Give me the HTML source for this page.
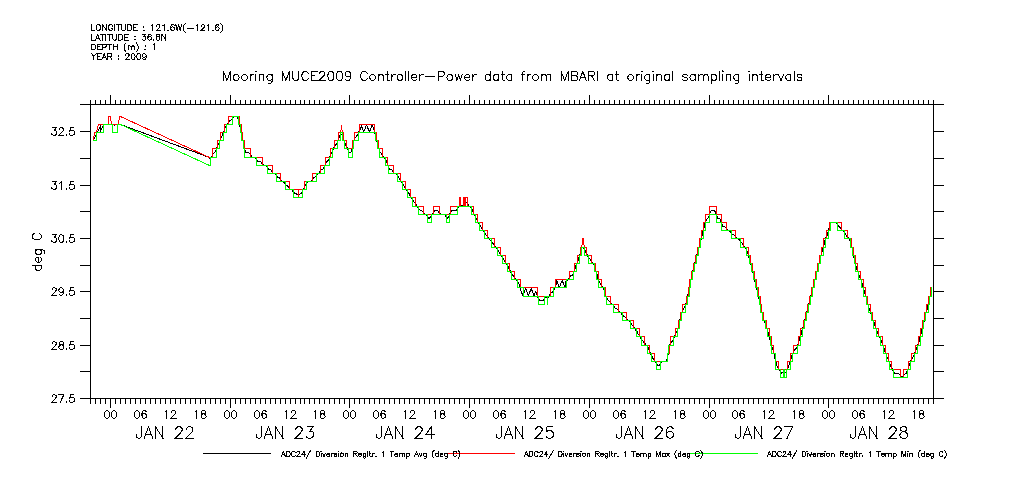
<!DOCTYPE html>
<html><head><meta charset="utf-8"><title>Mooring MUCE2009 Controller-Power</title>
<style>html,body{margin:0;padding:0;background:#fff;font-family:"Liberation Sans",sans-serif}svg{display:block}</style></head>
<body><svg width="1009" height="504" viewBox="0 0 1009 504" shape-rendering="crispEdges">
<rect width="1009" height="504" fill="#fff"/>
<rect x="80" y="104" width="864" height="1" fill="#000"/>
<rect x="80" y="398" width="864" height="1" fill="#000"/>
<rect x="90" y="104" width="1" height="295" fill="#000"/>
<rect x="933" y="104" width="1" height="295" fill="#000"/>
<rect x="80" y="131" width="11" height="1" fill="#000"/>
<rect x="933" y="131" width="11" height="1" fill="#000"/>
<rect x="80" y="158" width="11" height="1" fill="#000"/>
<rect x="933" y="158" width="11" height="1" fill="#000"/>
<rect x="80" y="185" width="11" height="1" fill="#000"/>
<rect x="933" y="185" width="11" height="1" fill="#000"/>
<rect x="80" y="211" width="11" height="1" fill="#000"/>
<rect x="933" y="211" width="11" height="1" fill="#000"/>
<rect x="80" y="238" width="11" height="1" fill="#000"/>
<rect x="933" y="238" width="11" height="1" fill="#000"/>
<rect x="80" y="265" width="11" height="1" fill="#000"/>
<rect x="933" y="265" width="11" height="1" fill="#000"/>
<rect x="80" y="291" width="11" height="1" fill="#000"/>
<rect x="933" y="291" width="11" height="1" fill="#000"/>
<rect x="80" y="318" width="11" height="1" fill="#000"/>
<rect x="933" y="318" width="11" height="1" fill="#000"/>
<rect x="80" y="345" width="11" height="1" fill="#000"/>
<rect x="933" y="345" width="11" height="1" fill="#000"/>
<rect x="80" y="371" width="11" height="1" fill="#000"/>
<rect x="933" y="371" width="11" height="1" fill="#000"/>
<rect x="90" y="100" width="1" height="5" fill="#000"/>
<rect x="90" y="398" width="1" height="6" fill="#000"/>
<rect x="95" y="100" width="1" height="5" fill="#000"/>
<rect x="95" y="398" width="1" height="6" fill="#000"/>
<rect x="100" y="100" width="1" height="5" fill="#000"/>
<rect x="100" y="398" width="1" height="6" fill="#000"/>
<rect x="105" y="100" width="1" height="5" fill="#000"/>
<rect x="105" y="398" width="1" height="6" fill="#000"/>
<rect x="110" y="95" width="1" height="10" fill="#000"/>
<rect x="110" y="398" width="1" height="10" fill="#000"/>
<rect x="115" y="100" width="1" height="5" fill="#000"/>
<rect x="115" y="398" width="1" height="6" fill="#000"/>
<rect x="120" y="100" width="1" height="5" fill="#000"/>
<rect x="120" y="398" width="1" height="6" fill="#000"/>
<rect x="125" y="100" width="1" height="5" fill="#000"/>
<rect x="125" y="398" width="1" height="6" fill="#000"/>
<rect x="130" y="100" width="1" height="5" fill="#000"/>
<rect x="130" y="398" width="1" height="6" fill="#000"/>
<rect x="135" y="100" width="1" height="5" fill="#000"/>
<rect x="135" y="398" width="1" height="6" fill="#000"/>
<rect x="140" y="100" width="1" height="5" fill="#000"/>
<rect x="140" y="398" width="1" height="6" fill="#000"/>
<rect x="145" y="100" width="1" height="5" fill="#000"/>
<rect x="145" y="398" width="1" height="6" fill="#000"/>
<rect x="150" y="100" width="1" height="5" fill="#000"/>
<rect x="150" y="398" width="1" height="6" fill="#000"/>
<rect x="155" y="100" width="1" height="5" fill="#000"/>
<rect x="155" y="398" width="1" height="6" fill="#000"/>
<rect x="160" y="100" width="1" height="5" fill="#000"/>
<rect x="160" y="398" width="1" height="6" fill="#000"/>
<rect x="165" y="100" width="1" height="5" fill="#000"/>
<rect x="165" y="398" width="1" height="6" fill="#000"/>
<rect x="170" y="100" width="1" height="5" fill="#000"/>
<rect x="170" y="398" width="1" height="6" fill="#000"/>
<rect x="175" y="100" width="1" height="5" fill="#000"/>
<rect x="175" y="398" width="1" height="6" fill="#000"/>
<rect x="180" y="100" width="1" height="5" fill="#000"/>
<rect x="180" y="398" width="1" height="6" fill="#000"/>
<rect x="185" y="100" width="1" height="5" fill="#000"/>
<rect x="185" y="398" width="1" height="6" fill="#000"/>
<rect x="190" y="100" width="1" height="5" fill="#000"/>
<rect x="190" y="398" width="1" height="6" fill="#000"/>
<rect x="195" y="100" width="1" height="5" fill="#000"/>
<rect x="195" y="398" width="1" height="6" fill="#000"/>
<rect x="200" y="100" width="1" height="5" fill="#000"/>
<rect x="200" y="398" width="1" height="6" fill="#000"/>
<rect x="205" y="100" width="1" height="5" fill="#000"/>
<rect x="205" y="398" width="1" height="6" fill="#000"/>
<rect x="210" y="100" width="1" height="5" fill="#000"/>
<rect x="210" y="398" width="1" height="6" fill="#000"/>
<rect x="215" y="100" width="1" height="5" fill="#000"/>
<rect x="215" y="398" width="1" height="6" fill="#000"/>
<rect x="220" y="100" width="1" height="5" fill="#000"/>
<rect x="220" y="398" width="1" height="6" fill="#000"/>
<rect x="225" y="100" width="1" height="5" fill="#000"/>
<rect x="225" y="398" width="1" height="6" fill="#000"/>
<rect x="230" y="95" width="1" height="10" fill="#000"/>
<rect x="230" y="398" width="1" height="10" fill="#000"/>
<rect x="235" y="100" width="1" height="5" fill="#000"/>
<rect x="235" y="398" width="1" height="6" fill="#000"/>
<rect x="240" y="100" width="1" height="5" fill="#000"/>
<rect x="240" y="398" width="1" height="6" fill="#000"/>
<rect x="245" y="100" width="1" height="5" fill="#000"/>
<rect x="245" y="398" width="1" height="6" fill="#000"/>
<rect x="250" y="100" width="1" height="5" fill="#000"/>
<rect x="250" y="398" width="1" height="6" fill="#000"/>
<rect x="255" y="100" width="1" height="5" fill="#000"/>
<rect x="255" y="398" width="1" height="6" fill="#000"/>
<rect x="260" y="100" width="1" height="5" fill="#000"/>
<rect x="260" y="398" width="1" height="6" fill="#000"/>
<rect x="265" y="100" width="1" height="5" fill="#000"/>
<rect x="265" y="398" width="1" height="6" fill="#000"/>
<rect x="270" y="100" width="1" height="5" fill="#000"/>
<rect x="270" y="398" width="1" height="6" fill="#000"/>
<rect x="275" y="100" width="1" height="5" fill="#000"/>
<rect x="275" y="398" width="1" height="6" fill="#000"/>
<rect x="280" y="100" width="1" height="5" fill="#000"/>
<rect x="280" y="398" width="1" height="6" fill="#000"/>
<rect x="285" y="100" width="1" height="5" fill="#000"/>
<rect x="285" y="398" width="1" height="6" fill="#000"/>
<rect x="290" y="100" width="1" height="5" fill="#000"/>
<rect x="290" y="398" width="1" height="6" fill="#000"/>
<rect x="295" y="100" width="1" height="5" fill="#000"/>
<rect x="295" y="398" width="1" height="6" fill="#000"/>
<rect x="300" y="100" width="1" height="5" fill="#000"/>
<rect x="300" y="398" width="1" height="6" fill="#000"/>
<rect x="304" y="100" width="1" height="5" fill="#000"/>
<rect x="304" y="398" width="1" height="6" fill="#000"/>
<rect x="309" y="100" width="1" height="5" fill="#000"/>
<rect x="309" y="398" width="1" height="6" fill="#000"/>
<rect x="314" y="100" width="1" height="5" fill="#000"/>
<rect x="314" y="398" width="1" height="6" fill="#000"/>
<rect x="319" y="100" width="1" height="5" fill="#000"/>
<rect x="319" y="398" width="1" height="6" fill="#000"/>
<rect x="324" y="100" width="1" height="5" fill="#000"/>
<rect x="324" y="398" width="1" height="6" fill="#000"/>
<rect x="329" y="100" width="1" height="5" fill="#000"/>
<rect x="329" y="398" width="1" height="6" fill="#000"/>
<rect x="334" y="100" width="1" height="5" fill="#000"/>
<rect x="334" y="398" width="1" height="6" fill="#000"/>
<rect x="339" y="100" width="1" height="5" fill="#000"/>
<rect x="339" y="398" width="1" height="6" fill="#000"/>
<rect x="344" y="100" width="1" height="5" fill="#000"/>
<rect x="344" y="398" width="1" height="6" fill="#000"/>
<rect x="349" y="95" width="1" height="10" fill="#000"/>
<rect x="349" y="398" width="1" height="10" fill="#000"/>
<rect x="354" y="100" width="1" height="5" fill="#000"/>
<rect x="354" y="398" width="1" height="6" fill="#000"/>
<rect x="359" y="100" width="1" height="5" fill="#000"/>
<rect x="359" y="398" width="1" height="6" fill="#000"/>
<rect x="364" y="100" width="1" height="5" fill="#000"/>
<rect x="364" y="398" width="1" height="6" fill="#000"/>
<rect x="369" y="100" width="1" height="5" fill="#000"/>
<rect x="369" y="398" width="1" height="6" fill="#000"/>
<rect x="374" y="100" width="1" height="5" fill="#000"/>
<rect x="374" y="398" width="1" height="6" fill="#000"/>
<rect x="379" y="100" width="1" height="5" fill="#000"/>
<rect x="379" y="398" width="1" height="6" fill="#000"/>
<rect x="384" y="100" width="1" height="5" fill="#000"/>
<rect x="384" y="398" width="1" height="6" fill="#000"/>
<rect x="389" y="100" width="1" height="5" fill="#000"/>
<rect x="389" y="398" width="1" height="6" fill="#000"/>
<rect x="394" y="100" width="1" height="5" fill="#000"/>
<rect x="394" y="398" width="1" height="6" fill="#000"/>
<rect x="399" y="100" width="1" height="5" fill="#000"/>
<rect x="399" y="398" width="1" height="6" fill="#000"/>
<rect x="404" y="100" width="1" height="5" fill="#000"/>
<rect x="404" y="398" width="1" height="6" fill="#000"/>
<rect x="409" y="100" width="1" height="5" fill="#000"/>
<rect x="409" y="398" width="1" height="6" fill="#000"/>
<rect x="414" y="100" width="1" height="5" fill="#000"/>
<rect x="414" y="398" width="1" height="6" fill="#000"/>
<rect x="419" y="100" width="1" height="5" fill="#000"/>
<rect x="419" y="398" width="1" height="6" fill="#000"/>
<rect x="424" y="100" width="1" height="5" fill="#000"/>
<rect x="424" y="398" width="1" height="6" fill="#000"/>
<rect x="429" y="100" width="1" height="5" fill="#000"/>
<rect x="429" y="398" width="1" height="6" fill="#000"/>
<rect x="434" y="100" width="1" height="5" fill="#000"/>
<rect x="434" y="398" width="1" height="6" fill="#000"/>
<rect x="439" y="100" width="1" height="5" fill="#000"/>
<rect x="439" y="398" width="1" height="6" fill="#000"/>
<rect x="444" y="100" width="1" height="5" fill="#000"/>
<rect x="444" y="398" width="1" height="6" fill="#000"/>
<rect x="449" y="100" width="1" height="5" fill="#000"/>
<rect x="449" y="398" width="1" height="6" fill="#000"/>
<rect x="454" y="100" width="1" height="5" fill="#000"/>
<rect x="454" y="398" width="1" height="6" fill="#000"/>
<rect x="459" y="100" width="1" height="5" fill="#000"/>
<rect x="459" y="398" width="1" height="6" fill="#000"/>
<rect x="464" y="100" width="1" height="5" fill="#000"/>
<rect x="464" y="398" width="1" height="6" fill="#000"/>
<rect x="469" y="95" width="1" height="10" fill="#000"/>
<rect x="469" y="398" width="1" height="10" fill="#000"/>
<rect x="474" y="100" width="1" height="5" fill="#000"/>
<rect x="474" y="398" width="1" height="6" fill="#000"/>
<rect x="479" y="100" width="1" height="5" fill="#000"/>
<rect x="479" y="398" width="1" height="6" fill="#000"/>
<rect x="484" y="100" width="1" height="5" fill="#000"/>
<rect x="484" y="398" width="1" height="6" fill="#000"/>
<rect x="489" y="100" width="1" height="5" fill="#000"/>
<rect x="489" y="398" width="1" height="6" fill="#000"/>
<rect x="494" y="100" width="1" height="5" fill="#000"/>
<rect x="494" y="398" width="1" height="6" fill="#000"/>
<rect x="499" y="100" width="1" height="5" fill="#000"/>
<rect x="499" y="398" width="1" height="6" fill="#000"/>
<rect x="504" y="100" width="1" height="5" fill="#000"/>
<rect x="504" y="398" width="1" height="6" fill="#000"/>
<rect x="509" y="100" width="1" height="5" fill="#000"/>
<rect x="509" y="398" width="1" height="6" fill="#000"/>
<rect x="514" y="100" width="1" height="5" fill="#000"/>
<rect x="514" y="398" width="1" height="6" fill="#000"/>
<rect x="519" y="100" width="1" height="5" fill="#000"/>
<rect x="519" y="398" width="1" height="6" fill="#000"/>
<rect x="524" y="100" width="1" height="5" fill="#000"/>
<rect x="524" y="398" width="1" height="6" fill="#000"/>
<rect x="529" y="100" width="1" height="5" fill="#000"/>
<rect x="529" y="398" width="1" height="6" fill="#000"/>
<rect x="534" y="100" width="1" height="5" fill="#000"/>
<rect x="534" y="398" width="1" height="6" fill="#000"/>
<rect x="539" y="100" width="1" height="5" fill="#000"/>
<rect x="539" y="398" width="1" height="6" fill="#000"/>
<rect x="544" y="100" width="1" height="5" fill="#000"/>
<rect x="544" y="398" width="1" height="6" fill="#000"/>
<rect x="549" y="100" width="1" height="5" fill="#000"/>
<rect x="549" y="398" width="1" height="6" fill="#000"/>
<rect x="554" y="100" width="1" height="5" fill="#000"/>
<rect x="554" y="398" width="1" height="6" fill="#000"/>
<rect x="559" y="100" width="1" height="5" fill="#000"/>
<rect x="559" y="398" width="1" height="6" fill="#000"/>
<rect x="564" y="100" width="1" height="5" fill="#000"/>
<rect x="564" y="398" width="1" height="6" fill="#000"/>
<rect x="569" y="100" width="1" height="5" fill="#000"/>
<rect x="569" y="398" width="1" height="6" fill="#000"/>
<rect x="574" y="100" width="1" height="5" fill="#000"/>
<rect x="574" y="398" width="1" height="6" fill="#000"/>
<rect x="579" y="100" width="1" height="5" fill="#000"/>
<rect x="579" y="398" width="1" height="6" fill="#000"/>
<rect x="584" y="100" width="1" height="5" fill="#000"/>
<rect x="584" y="398" width="1" height="6" fill="#000"/>
<rect x="589" y="95" width="1" height="10" fill="#000"/>
<rect x="589" y="398" width="1" height="10" fill="#000"/>
<rect x="594" y="100" width="1" height="5" fill="#000"/>
<rect x="594" y="398" width="1" height="6" fill="#000"/>
<rect x="599" y="100" width="1" height="5" fill="#000"/>
<rect x="599" y="398" width="1" height="6" fill="#000"/>
<rect x="604" y="100" width="1" height="5" fill="#000"/>
<rect x="604" y="398" width="1" height="6" fill="#000"/>
<rect x="609" y="100" width="1" height="5" fill="#000"/>
<rect x="609" y="398" width="1" height="6" fill="#000"/>
<rect x="614" y="100" width="1" height="5" fill="#000"/>
<rect x="614" y="398" width="1" height="6" fill="#000"/>
<rect x="619" y="100" width="1" height="5" fill="#000"/>
<rect x="619" y="398" width="1" height="6" fill="#000"/>
<rect x="624" y="100" width="1" height="5" fill="#000"/>
<rect x="624" y="398" width="1" height="6" fill="#000"/>
<rect x="629" y="100" width="1" height="5" fill="#000"/>
<rect x="629" y="398" width="1" height="6" fill="#000"/>
<rect x="634" y="100" width="1" height="5" fill="#000"/>
<rect x="634" y="398" width="1" height="6" fill="#000"/>
<rect x="639" y="100" width="1" height="5" fill="#000"/>
<rect x="639" y="398" width="1" height="6" fill="#000"/>
<rect x="644" y="100" width="1" height="5" fill="#000"/>
<rect x="644" y="398" width="1" height="6" fill="#000"/>
<rect x="649" y="100" width="1" height="5" fill="#000"/>
<rect x="649" y="398" width="1" height="6" fill="#000"/>
<rect x="654" y="100" width="1" height="5" fill="#000"/>
<rect x="654" y="398" width="1" height="6" fill="#000"/>
<rect x="659" y="100" width="1" height="5" fill="#000"/>
<rect x="659" y="398" width="1" height="6" fill="#000"/>
<rect x="664" y="100" width="1" height="5" fill="#000"/>
<rect x="664" y="398" width="1" height="6" fill="#000"/>
<rect x="669" y="100" width="1" height="5" fill="#000"/>
<rect x="669" y="398" width="1" height="6" fill="#000"/>
<rect x="674" y="100" width="1" height="5" fill="#000"/>
<rect x="674" y="398" width="1" height="6" fill="#000"/>
<rect x="679" y="100" width="1" height="5" fill="#000"/>
<rect x="679" y="398" width="1" height="6" fill="#000"/>
<rect x="684" y="100" width="1" height="5" fill="#000"/>
<rect x="684" y="398" width="1" height="6" fill="#000"/>
<rect x="689" y="100" width="1" height="5" fill="#000"/>
<rect x="689" y="398" width="1" height="6" fill="#000"/>
<rect x="694" y="100" width="1" height="5" fill="#000"/>
<rect x="694" y="398" width="1" height="6" fill="#000"/>
<rect x="699" y="100" width="1" height="5" fill="#000"/>
<rect x="699" y="398" width="1" height="6" fill="#000"/>
<rect x="704" y="100" width="1" height="5" fill="#000"/>
<rect x="704" y="398" width="1" height="6" fill="#000"/>
<rect x="709" y="95" width="1" height="10" fill="#000"/>
<rect x="709" y="398" width="1" height="10" fill="#000"/>
<rect x="714" y="100" width="1" height="5" fill="#000"/>
<rect x="714" y="398" width="1" height="6" fill="#000"/>
<rect x="719" y="100" width="1" height="5" fill="#000"/>
<rect x="719" y="398" width="1" height="6" fill="#000"/>
<rect x="723" y="100" width="1" height="5" fill="#000"/>
<rect x="723" y="398" width="1" height="6" fill="#000"/>
<rect x="728" y="100" width="1" height="5" fill="#000"/>
<rect x="728" y="398" width="1" height="6" fill="#000"/>
<rect x="733" y="100" width="1" height="5" fill="#000"/>
<rect x="733" y="398" width="1" height="6" fill="#000"/>
<rect x="738" y="100" width="1" height="5" fill="#000"/>
<rect x="738" y="398" width="1" height="6" fill="#000"/>
<rect x="743" y="100" width="1" height="5" fill="#000"/>
<rect x="743" y="398" width="1" height="6" fill="#000"/>
<rect x="748" y="100" width="1" height="5" fill="#000"/>
<rect x="748" y="398" width="1" height="6" fill="#000"/>
<rect x="753" y="100" width="1" height="5" fill="#000"/>
<rect x="753" y="398" width="1" height="6" fill="#000"/>
<rect x="758" y="100" width="1" height="5" fill="#000"/>
<rect x="758" y="398" width="1" height="6" fill="#000"/>
<rect x="763" y="100" width="1" height="5" fill="#000"/>
<rect x="763" y="398" width="1" height="6" fill="#000"/>
<rect x="768" y="100" width="1" height="5" fill="#000"/>
<rect x="768" y="398" width="1" height="6" fill="#000"/>
<rect x="773" y="100" width="1" height="5" fill="#000"/>
<rect x="773" y="398" width="1" height="6" fill="#000"/>
<rect x="778" y="100" width="1" height="5" fill="#000"/>
<rect x="778" y="398" width="1" height="6" fill="#000"/>
<rect x="783" y="100" width="1" height="5" fill="#000"/>
<rect x="783" y="398" width="1" height="6" fill="#000"/>
<rect x="788" y="100" width="1" height="5" fill="#000"/>
<rect x="788" y="398" width="1" height="6" fill="#000"/>
<rect x="793" y="100" width="1" height="5" fill="#000"/>
<rect x="793" y="398" width="1" height="6" fill="#000"/>
<rect x="798" y="100" width="1" height="5" fill="#000"/>
<rect x="798" y="398" width="1" height="6" fill="#000"/>
<rect x="803" y="100" width="1" height="5" fill="#000"/>
<rect x="803" y="398" width="1" height="6" fill="#000"/>
<rect x="808" y="100" width="1" height="5" fill="#000"/>
<rect x="808" y="398" width="1" height="6" fill="#000"/>
<rect x="813" y="100" width="1" height="5" fill="#000"/>
<rect x="813" y="398" width="1" height="6" fill="#000"/>
<rect x="818" y="100" width="1" height="5" fill="#000"/>
<rect x="818" y="398" width="1" height="6" fill="#000"/>
<rect x="823" y="100" width="1" height="5" fill="#000"/>
<rect x="823" y="398" width="1" height="6" fill="#000"/>
<rect x="828" y="95" width="1" height="10" fill="#000"/>
<rect x="828" y="398" width="1" height="10" fill="#000"/>
<rect x="833" y="100" width="1" height="5" fill="#000"/>
<rect x="833" y="398" width="1" height="6" fill="#000"/>
<rect x="838" y="100" width="1" height="5" fill="#000"/>
<rect x="838" y="398" width="1" height="6" fill="#000"/>
<rect x="843" y="100" width="1" height="5" fill="#000"/>
<rect x="843" y="398" width="1" height="6" fill="#000"/>
<rect x="848" y="100" width="1" height="5" fill="#000"/>
<rect x="848" y="398" width="1" height="6" fill="#000"/>
<rect x="853" y="100" width="1" height="5" fill="#000"/>
<rect x="853" y="398" width="1" height="6" fill="#000"/>
<rect x="858" y="100" width="1" height="5" fill="#000"/>
<rect x="858" y="398" width="1" height="6" fill="#000"/>
<rect x="863" y="100" width="1" height="5" fill="#000"/>
<rect x="863" y="398" width="1" height="6" fill="#000"/>
<rect x="868" y="100" width="1" height="5" fill="#000"/>
<rect x="868" y="398" width="1" height="6" fill="#000"/>
<rect x="873" y="100" width="1" height="5" fill="#000"/>
<rect x="873" y="398" width="1" height="6" fill="#000"/>
<rect x="878" y="100" width="1" height="5" fill="#000"/>
<rect x="878" y="398" width="1" height="6" fill="#000"/>
<rect x="883" y="100" width="1" height="5" fill="#000"/>
<rect x="883" y="398" width="1" height="6" fill="#000"/>
<rect x="888" y="100" width="1" height="5" fill="#000"/>
<rect x="888" y="398" width="1" height="6" fill="#000"/>
<rect x="893" y="100" width="1" height="5" fill="#000"/>
<rect x="893" y="398" width="1" height="6" fill="#000"/>
<rect x="898" y="100" width="1" height="5" fill="#000"/>
<rect x="898" y="398" width="1" height="6" fill="#000"/>
<rect x="903" y="100" width="1" height="5" fill="#000"/>
<rect x="903" y="398" width="1" height="6" fill="#000"/>
<rect x="908" y="100" width="1" height="5" fill="#000"/>
<rect x="908" y="398" width="1" height="6" fill="#000"/>
<rect x="913" y="100" width="1" height="5" fill="#000"/>
<rect x="913" y="398" width="1" height="6" fill="#000"/>
<rect x="918" y="100" width="1" height="5" fill="#000"/>
<rect x="918" y="398" width="1" height="6" fill="#000"/>
<rect x="923" y="100" width="1" height="5" fill="#000"/>
<rect x="923" y="398" width="1" height="6" fill="#000"/>
<rect x="928" y="100" width="1" height="5" fill="#000"/>
<rect x="928" y="398" width="1" height="6" fill="#000"/>
<rect x="933" y="100" width="1" height="5" fill="#000"/>
<rect x="933" y="398" width="1" height="6" fill="#000"/>
<path d="M93.5 140.5 L96.5 133.5 L97.5 132.5 L100.5 125.5 L100.5 131.5 L103.5 124.5 L113.5 124.5 L114.5 125.5 L115.5 124.5 L120.5 124.5 L209.5 157.5 L210.5 159.5 L210.5 158.5 L211.5 157.5 L211.5 156.5 L212.5 155.5 L212.5 154.5 L213.5 153.5 L214.5 152.5 L215.5 151.5 L215.5 150.5 L216.5 149.5 L216.5 147.5 L217.5 146.5 L217.5 145.5 L218.5 144.5 L218.5 143.5 L219.5 142.5 L219.5 141.5 L220.5 139.5 L220.5 138.5 L221.5 137.5 L221.5 136.5 L222.5 135.5 L222.5 134.5 L223.5 132.5 L223.5 131.5 L224.5 130.5 L224.5 128.5 L225.5 127.5 L225.5 126.5 L226.5 125.5 L227.5 124.5 L227.5 123.5 L228.5 122.5 L228.5 121.5 L229.5 121.5 L229.5 120.5 L230.5 120.5 L231.5 119.5 L232.5 118.5 L232.5 117.5 L233.5 117.5 L233.5 116.5 L234.5 116.5 L235.5 116.5 L236.5 116.5 L237.5 116.5 L237.5 117.5 L238.5 119.5 L238.5 120.5 L239.5 122.5 L239.5 125.5 L240.5 127.5 L240.5 130.5 L241.5 132.5 L241.5 134.5 L242.5 136.5 L242.5 139.5 L243.5 141.5 L243.5 144.5 L244.5 147.5 L244.5 149.5 L245.5 150.5 L245.5 152.5 L246.5 152.5 L247.5 152.5 L248.5 152.5 L249.5 153.5 L250.5 154.5 L250.5 155.5 L251.5 155.5 L251.5 156.5 L252.5 157.5 L253.5 157.5 L254.5 157.5 L255.5 158.5 L256.5 159.5 L257.5 160.5 L257.5 161.5 L258.5 161.5 L259.5 161.5 L260.5 161.5 L261.5 162.5 L261.5 163.5 L262.5 163.5 L262.5 164.5 L263.5 164.5 L263.5 165.5 L264.5 165.5 L265.5 165.5 L266.5 165.5 L266.5 166.5 L267.5 167.5 L268.5 168.5 L268.5 169.5 L269.5 169.5 L270.5 169.5 L271.5 170.5 L271.5 171.5 L272.5 171.5 L272.5 172.5 L273.5 173.5 L274.5 173.5 L275.5 174.5 L276.5 175.5 L277.5 176.5 L277.5 177.5 L278.5 177.5 L279.5 177.5 L279.5 178.5 L280.5 179.5 L281.5 180.5 L282.5 181.5 L283.5 181.5 L283.5 182.5 L284.5 182.5 L284.5 183.5 L285.5 184.5 L286.5 185.5 L287.5 185.5 L287.5 186.5 L288.5 186.5 L288.5 187.5 L289.5 187.5 L289.5 188.5 L290.5 189.5 L291.5 189.5 L292.5 190.5 L292.5 191.5 L293.5 191.5 L293.5 192.5 L294.5 192.5 L294.5 193.5 L295.5 193.5 L296.5 193.5 L296.5 194.5 L297.5 194.5 L298.5 194.5 L299.5 194.5 L300.5 193.5 L301.5 193.5 L301.5 192.5 L302.5 191.5 L302.5 190.5 L303.5 189.5 L303.5 188.5 L304.5 187.5 L304.5 186.5 L305.5 185.5 L305.5 184.5 L306.5 184.5 L306.5 183.5 L307.5 182.5 L308.5 181.5 L309.5 181.5 L310.5 181.5 L311.5 180.5 L312.5 179.5 L313.5 178.5 L313.5 177.5 L314.5 177.5 L315.5 176.5 L316.5 175.5 L316.5 174.5 L317.5 174.5 L317.5 173.5 L318.5 173.5 L319.5 172.5 L319.5 171.5 L320.5 171.5 L320.5 170.5 L321.5 169.5 L322.5 169.5 L323.5 168.5 L323.5 167.5 L324.5 166.5 L324.5 165.5 L325.5 164.5 L325.5 163.5 L326.5 162.5 L326.5 161.5 L327.5 161.5 L327.5 160.5 L328.5 160.5 L328.5 159.5 L329.5 158.5 L329.5 157.5 L330.5 155.5 L330.5 154.5 L331.5 153.5 L331.5 152.5 L332.5 151.5 L332.5 150.5 L333.5 149.5 L333.5 148.5 L334.5 146.5 L335.5 145.5 L335.5 144.5 L336.5 144.5 L336.5 143.5 L337.5 142.5 L337.5 141.5 L338.5 139.5 L338.5 138.5 L339.5 136.5 L339.5 135.5 L340.5 134.5 L341.5 134.5 L342.5 135.5 L342.5 136.5 L343.5 138.5 L343.5 140.5 L344.5 141.5 L344.5 142.5 L345.5 143.5 L345.5 145.5 L346.5 146.5 L347.5 148.5 L347.5 149.5 L348.5 150.5 L348.5 151.5 L349.5 152.5 L350.5 152.5 L351.5 151.5 L351.5 149.5 L352.5 147.5 L352.5 146.5 L353.5 143.5 L353.5 141.5 L354.5 140.5 L354.5 138.5 L355.5 137.5 L356.5 136.5 L356.5 135.5 L357.5 135.5 L357.5 134.5 L358.5 133.5 L358.5 131.5 L359.5 130.5 L359.5 129.5 L360.5 129.5 L360.5 128.5 L361.5 125.5 L361.5 126.5 L362.5 128.5 L362.5 129.5 L363.5 130.5 L363.5 131.5 L364.5 130.5 L364.5 129.5 L365.5 128.5 L365.5 126.5 L366.5 125.5 L367.5 126.5 L367.5 127.5 L368.5 129.5 L368.5 130.5 L369.5 131.5 L370.5 129.5 L370.5 128.5 L371.5 127.5 L371.5 125.5 L372.5 124.5 L372.5 126.5 L373.5 127.5 L373.5 128.5 L374.5 131.5 L374.5 132.5 L375.5 134.5 L375.5 136.5 L376.5 139.5 L376.5 141.5 L377.5 142.5 L377.5 144.5 L378.5 146.5 L378.5 148.5 L379.5 149.5 L379.5 151.5 L380.5 152.5 L381.5 153.5 L381.5 154.5 L382.5 154.5 L382.5 155.5 L383.5 156.5 L384.5 157.5 L384.5 158.5 L385.5 158.5 L385.5 159.5 L386.5 161.5 L386.5 162.5 L387.5 163.5 L387.5 165.5 L388.5 166.5 L388.5 167.5 L389.5 168.5 L389.5 169.5 L390.5 169.5 L391.5 169.5 L392.5 170.5 L392.5 171.5 L393.5 171.5 L393.5 172.5 L394.5 173.5 L395.5 173.5 L396.5 174.5 L397.5 175.5 L398.5 176.5 L398.5 177.5 L399.5 178.5 L399.5 179.5 L400.5 180.5 L401.5 181.5 L401.5 182.5 L402.5 183.5 L402.5 184.5 L403.5 184.5 L403.5 185.5 L404.5 186.5 L404.5 187.5 L405.5 187.5 L405.5 188.5 L406.5 189.5 L406.5 190.5 L407.5 191.5 L408.5 192.5 L409.5 194.5 L409.5 195.5 L410.5 195.5 L410.5 196.5 L411.5 197.5 L411.5 198.5 L412.5 199.5 L413.5 200.5 L413.5 201.5 L414.5 202.5 L415.5 203.5 L415.5 204.5 L416.5 204.5 L416.5 205.5 L417.5 206.5 L417.5 207.5 L418.5 208.5 L419.5 209.5 L420.5 210.5 L421.5 210.5 L422.5 211.5 L423.5 212.5 L423.5 213.5 L424.5 213.5 L424.5 214.5 L425.5 214.5 L426.5 214.5 L426.5 215.5 L427.5 216.5 L428.5 217.5 L428.5 218.5 L429.5 218.5 L429.5 217.5 L430.5 217.5 L430.5 216.5 L431.5 215.5 L432.5 213.5 L433.5 212.5 L433.5 211.5 L434.5 211.5 L434.5 210.5 L435.5 210.5 L436.5 210.5 L437.5 210.5 L438.5 211.5 L438.5 212.5 L439.5 212.5 L439.5 213.5 L440.5 213.5 L440.5 214.5 L441.5 214.5 L442.5 214.5 L443.5 214.5 L444.5 214.5 L445.5 215.5 L445.5 216.5 L446.5 216.5 L446.5 217.5 L447.5 218.5 L447.5 217.5 L448.5 217.5 L448.5 216.5 L449.5 215.5 L449.5 213.5 L450.5 212.5 L450.5 211.5 L451.5 211.5 L451.5 210.5 L452.5 210.5 L453.5 210.5 L454.5 210.5 L455.5 210.5 L456.5 210.5 L456.5 209.5 L457.5 208.5 L458.5 206.5 L459.5 205.5 L460.5 205.5 L461.5 205.5 L462.5 205.5 L463.5 205.5 L463.5 204.5 L464.5 203.5 L465.5 203.5 L465.5 202.5 L466.5 202.5 L467.5 203.5 L467.5 204.5 L468.5 204.5 L468.5 205.5 L469.5 206.5 L470.5 206.5 L470.5 207.5 L471.5 208.5 L472.5 209.5 L472.5 211.5 L473.5 212.5 L473.5 213.5 L474.5 214.5 L474.5 215.5 L475.5 216.5 L475.5 217.5 L476.5 219.5 L477.5 220.5 L477.5 221.5 L478.5 222.5 L478.5 223.5 L479.5 224.5 L479.5 225.5 L480.5 225.5 L480.5 226.5 L481.5 227.5 L481.5 228.5 L482.5 229.5 L483.5 230.5 L483.5 231.5 L484.5 232.5 L484.5 233.5 L485.5 233.5 L485.5 234.5 L486.5 235.5 L487.5 236.5 L488.5 237.5 L488.5 238.5 L489.5 238.5 L489.5 239.5 L490.5 240.5 L491.5 241.5 L492.5 242.5 L492.5 243.5 L493.5 243.5 L493.5 244.5 L494.5 245.5 L495.5 246.5 L495.5 247.5 L496.5 247.5 L496.5 248.5 L497.5 249.5 L498.5 250.5 L498.5 251.5 L499.5 252.5 L499.5 253.5 L500.5 253.5 L500.5 254.5 L501.5 255.5 L501.5 256.5 L502.5 257.5 L503.5 258.5 L503.5 259.5 L504.5 260.5 L504.5 261.5 L505.5 261.5 L505.5 262.5 L506.5 263.5 L506.5 264.5 L507.5 265.5 L508.5 267.5 L508.5 268.5 L509.5 269.5 L510.5 271.5 L510.5 272.5 L511.5 273.5 L511.5 274.5 L512.5 274.5 L512.5 275.5 L513.5 275.5 L513.5 276.5 L514.5 277.5 L515.5 278.5 L515.5 279.5 L516.5 280.5 L517.5 281.5 L518.5 282.5 L518.5 283.5 L519.5 284.5 L519.5 285.5 L520.5 288.5 L520.5 290.5 L521.5 291.5 L521.5 292.5 L522.5 294.5 L522.5 295.5 L523.5 294.5 L523.5 293.5 L524.5 291.5 L524.5 290.5 L525.5 289.5 L525.5 288.5 L526.5 290.5 L526.5 291.5 L527.5 292.5 L527.5 293.5 L528.5 295.5 L528.5 294.5 L529.5 293.5 L529.5 292.5 L530.5 290.5 L530.5 289.5 L531.5 288.5 L531.5 289.5 L532.5 291.5 L532.5 292.5 L533.5 293.5 L533.5 295.5 L534.5 295.5 L534.5 293.5 L535.5 292.5 L535.5 291.5 L536.5 293.5 L536.5 294.5 L537.5 295.5 L537.5 297.5 L538.5 298.5 L538.5 299.5 L539.5 299.5 L539.5 300.5 L540.5 300.5 L541.5 300.5 L542.5 300.5 L543.5 300.5 L543.5 299.5 L544.5 298.5 L545.5 297.5 L546.5 297.5 L547.5 297.5 L548.5 297.5 L548.5 296.5 L549.5 295.5 L549.5 294.5 L550.5 293.5 L550.5 292.5 L551.5 292.5 L552.5 292.5 L552.5 291.5 L553.5 290.5 L554.5 288.5 L554.5 287.5 L555.5 286.5 L555.5 285.5 L556.5 284.5 L556.5 280.5 L557.5 282.5 L557.5 283.5 L558.5 284.5 L558.5 286.5 L559.5 287.5 L559.5 286.5 L560.5 285.5 L560.5 283.5 L561.5 282.5 L561.5 281.5 L562.5 280.5 L562.5 281.5 L563.5 283.5 L563.5 284.5 L564.5 285.5 L564.5 287.5 L565.5 286.5 L565.5 281.5 L566.5 281.5 L566.5 280.5 L567.5 280.5 L567.5 279.5 L568.5 279.5 L568.5 278.5 L569.5 277.5 L570.5 276.5 L570.5 275.5 L571.5 275.5 L572.5 275.5 L572.5 274.5 L573.5 273.5 L573.5 271.5 L574.5 270.5 L574.5 269.5 L575.5 267.5 L575.5 266.5 L576.5 264.5 L576.5 263.5 L577.5 262.5 L577.5 261.5 L578.5 259.5 L578.5 258.5 L579.5 256.5 L579.5 255.5 L580.5 253.5 L580.5 251.5 L581.5 249.5 L581.5 248.5 L582.5 247.5 L583.5 247.5 L583.5 248.5 L584.5 248.5 L584.5 249.5 L585.5 250.5 L585.5 252.5 L586.5 253.5 L587.5 254.5 L587.5 256.5 L588.5 257.5 L589.5 258.5 L590.5 259.5 L590.5 260.5 L591.5 261.5 L592.5 262.5 L592.5 263.5 L593.5 264.5 L594.5 265.5 L594.5 266.5 L595.5 268.5 L595.5 270.5 L596.5 271.5 L596.5 273.5 L597.5 275.5 L597.5 277.5 L598.5 279.5 L598.5 280.5 L599.5 281.5 L599.5 282.5 L600.5 283.5 L600.5 284.5 L601.5 285.5 L601.5 286.5 L602.5 286.5 L602.5 287.5 L603.5 288.5 L603.5 289.5 L604.5 290.5 L604.5 291.5 L605.5 293.5 L605.5 295.5 L606.5 296.5 L606.5 297.5 L607.5 299.5 L608.5 300.5 L609.5 301.5 L610.5 302.5 L610.5 303.5 L611.5 303.5 L611.5 304.5 L612.5 304.5 L613.5 305.5 L613.5 306.5 L614.5 306.5 L614.5 307.5 L615.5 308.5 L616.5 308.5 L617.5 309.5 L618.5 310.5 L618.5 311.5 L619.5 311.5 L619.5 312.5 L620.5 312.5 L621.5 313.5 L621.5 314.5 L622.5 314.5 L622.5 315.5 L623.5 315.5 L623.5 316.5 L624.5 316.5 L625.5 317.5 L626.5 318.5 L626.5 319.5 L627.5 319.5 L627.5 320.5 L628.5 320.5 L629.5 321.5 L630.5 322.5 L630.5 323.5 L631.5 323.5 L631.5 324.5 L632.5 325.5 L633.5 326.5 L633.5 327.5 L634.5 327.5 L634.5 328.5 L635.5 329.5 L635.5 330.5 L636.5 330.5 L636.5 331.5 L637.5 331.5 L637.5 333.5 L638.5 334.5 L639.5 335.5 L639.5 336.5 L640.5 337.5 L640.5 338.5 L641.5 338.5 L641.5 339.5 L642.5 340.5 L643.5 341.5 L643.5 342.5 L644.5 342.5 L644.5 343.5 L645.5 343.5 L645.5 344.5 L646.5 345.5 L647.5 346.5 L647.5 347.5 L648.5 347.5 L648.5 349.5 L649.5 350.5 L649.5 351.5 L650.5 353.5 L650.5 354.5 L651.5 355.5 L651.5 356.5 L652.5 356.5 L652.5 358.5 L653.5 358.5 L653.5 359.5 L654.5 359.5 L654.5 360.5 L655.5 361.5 L655.5 362.5 L656.5 363.5 L656.5 364.5 L657.5 364.5 L657.5 365.5 L658.5 365.5 L659.5 365.5 L659.5 364.5 L660.5 364.5 L660.5 363.5 L661.5 362.5 L662.5 361.5 L663.5 361.5 L664.5 361.5 L665.5 361.5 L666.5 360.5 L666.5 359.5 L667.5 358.5 L667.5 355.5 L668.5 353.5 L668.5 350.5 L669.5 347.5 L669.5 345.5 L670.5 343.5 L670.5 342.5 L671.5 342.5 L671.5 341.5 L672.5 341.5 L672.5 340.5 L673.5 339.5 L673.5 338.5 L674.5 337.5 L674.5 336.5 L675.5 334.5 L675.5 333.5 L676.5 332.5 L676.5 331.5 L677.5 330.5 L677.5 329.5 L678.5 327.5 L678.5 325.5 L679.5 322.5 L679.5 320.5 L680.5 318.5 L680.5 316.5 L681.5 314.5 L681.5 313.5 L682.5 311.5 L682.5 310.5 L683.5 309.5 L683.5 308.5 L684.5 307.5 L684.5 306.5 L685.5 305.5 L685.5 303.5 L686.5 302.5 L686.5 299.5 L687.5 297.5 L687.5 295.5 L688.5 292.5 L688.5 290.5 L689.5 287.5 L689.5 285.5 L690.5 282.5 L690.5 280.5 L691.5 278.5 L691.5 275.5 L692.5 273.5 L692.5 271.5 L693.5 269.5 L693.5 267.5 L694.5 265.5 L694.5 263.5 L695.5 261.5 L695.5 259.5 L696.5 257.5 L696.5 255.5 L697.5 253.5 L697.5 251.5 L698.5 249.5 L698.5 247.5 L699.5 246.5 L699.5 244.5 L700.5 241.5 L700.5 240.5 L701.5 238.5 L701.5 236.5 L702.5 234.5 L702.5 232.5 L703.5 230.5 L703.5 229.5 L704.5 226.5 L704.5 224.5 L705.5 222.5 L705.5 221.5 L706.5 220.5 L706.5 219.5 L707.5 218.5 L708.5 217.5 L708.5 216.5 L709.5 215.5 L709.5 213.5 L710.5 212.5 L710.5 211.5 L711.5 210.5 L712.5 210.5 L713.5 210.5 L714.5 210.5 L715.5 212.5 L715.5 213.5 L716.5 214.5 L716.5 215.5 L717.5 217.5 L717.5 218.5 L718.5 218.5 L719.5 218.5 L720.5 219.5 L720.5 221.5 L721.5 222.5 L721.5 223.5 L722.5 225.5 L722.5 226.5 L723.5 226.5 L724.5 226.5 L725.5 227.5 L726.5 228.5 L726.5 229.5 L727.5 229.5 L727.5 230.5 L728.5 230.5 L729.5 230.5 L729.5 231.5 L730.5 231.5 L730.5 232.5 L731.5 233.5 L732.5 234.5 L733.5 234.5 L734.5 235.5 L735.5 236.5 L736.5 237.5 L736.5 238.5 L737.5 238.5 L738.5 238.5 L738.5 239.5 L739.5 239.5 L739.5 240.5 L740.5 241.5 L741.5 242.5 L742.5 243.5 L742.5 244.5 L743.5 244.5 L743.5 245.5 L744.5 246.5 L745.5 247.5 L745.5 248.5 L746.5 248.5 L746.5 250.5 L747.5 251.5 L747.5 253.5 L748.5 254.5 L748.5 256.5 L749.5 258.5 L749.5 260.5 L750.5 262.5 L750.5 263.5 L751.5 265.5 L751.5 267.5 L752.5 269.5 L752.5 271.5 L753.5 273.5 L753.5 275.5 L754.5 278.5 L754.5 280.5 L755.5 282.5 L755.5 285.5 L756.5 286.5 L756.5 288.5 L757.5 290.5 L757.5 293.5 L758.5 295.5 L758.5 297.5 L759.5 299.5 L759.5 302.5 L760.5 304.5 L760.5 307.5 L761.5 309.5 L761.5 311.5 L762.5 314.5 L762.5 315.5 L763.5 317.5 L763.5 319.5 L764.5 320.5 L764.5 321.5 L765.5 323.5 L765.5 325.5 L766.5 326.5 L766.5 328.5 L767.5 329.5 L767.5 331.5 L768.5 333.5 L768.5 335.5 L769.5 336.5 L769.5 338.5 L770.5 340.5 L770.5 342.5 L771.5 344.5 L771.5 346.5 L772.5 347.5 L772.5 349.5 L773.5 350.5 L773.5 352.5 L774.5 354.5 L774.5 357.5 L775.5 359.5 L775.5 361.5 L776.5 363.5 L776.5 365.5 L777.5 366.5 L777.5 367.5 L778.5 368.5 L779.5 370.5 L780.5 371.5 L780.5 372.5 L781.5 372.5 L781.5 373.5 L782.5 372.5 L783.5 372.5 L784.5 372.5 L785.5 372.5 L786.5 371.5 L786.5 370.5 L787.5 369.5 L787.5 368.5 L788.5 366.5 L788.5 365.5 L789.5 364.5 L789.5 362.5 L790.5 361.5 L790.5 359.5 L791.5 358.5 L791.5 356.5 L792.5 354.5 L792.5 353.5 L793.5 352.5 L793.5 351.5 L794.5 350.5 L794.5 349.5 L795.5 349.5 L795.5 348.5 L796.5 348.5 L796.5 347.5 L797.5 346.5 L797.5 344.5 L798.5 343.5 L798.5 341.5 L799.5 340.5 L799.5 338.5 L800.5 336.5 L800.5 335.5 L801.5 333.5 L801.5 331.5 L802.5 329.5 L802.5 328.5 L803.5 326.5 L803.5 324.5 L804.5 322.5 L804.5 320.5 L805.5 318.5 L805.5 316.5 L806.5 314.5 L806.5 312.5 L807.5 310.5 L807.5 308.5 L808.5 305.5 L808.5 304.5 L809.5 302.5 L809.5 300.5 L810.5 297.5 L810.5 296.5 L811.5 294.5 L811.5 292.5 L812.5 289.5 L812.5 287.5 L813.5 286.5 L813.5 284.5 L814.5 282.5 L814.5 280.5 L815.5 278.5 L815.5 276.5 L816.5 274.5 L816.5 272.5 L817.5 270.5 L817.5 268.5 L818.5 266.5 L818.5 264.5 L819.5 262.5 L819.5 260.5 L820.5 258.5 L820.5 256.5 L821.5 254.5 L821.5 253.5 L822.5 250.5 L822.5 248.5 L823.5 247.5 L823.5 245.5 L824.5 243.5 L824.5 241.5 L825.5 239.5 L825.5 238.5 L826.5 236.5 L827.5 234.5 L827.5 232.5 L828.5 231.5 L828.5 229.5 L829.5 227.5 L829.5 225.5 L830.5 224.5 L830.5 223.5 L831.5 222.5 L832.5 222.5 L833.5 222.5 L834.5 222.5 L835.5 222.5 L836.5 223.5 L837.5 224.5 L837.5 225.5 L838.5 225.5 L838.5 226.5 L839.5 226.5 L839.5 227.5 L840.5 227.5 L840.5 228.5 L841.5 229.5 L842.5 230.5 L843.5 231.5 L844.5 232.5 L844.5 233.5 L845.5 233.5 L845.5 234.5 L846.5 235.5 L846.5 236.5 L847.5 236.5 L847.5 237.5 L848.5 237.5 L848.5 238.5 L849.5 239.5 L849.5 240.5 L850.5 241.5 L850.5 242.5 L851.5 244.5 L851.5 246.5 L852.5 248.5 L852.5 251.5 L853.5 253.5 L853.5 256.5 L854.5 258.5 L854.5 261.5 L855.5 263.5 L855.5 265.5 L856.5 267.5 L856.5 268.5 L857.5 270.5 L857.5 271.5 L858.5 272.5 L858.5 274.5 L859.5 275.5 L859.5 276.5 L860.5 278.5 L860.5 279.5 L861.5 280.5 L861.5 282.5 L862.5 283.5 L862.5 285.5 L863.5 287.5 L863.5 289.5 L864.5 291.5 L864.5 292.5 L865.5 294.5 L865.5 296.5 L866.5 297.5 L866.5 299.5 L867.5 301.5 L867.5 303.5 L868.5 305.5 L868.5 307.5 L869.5 308.5 L869.5 309.5 L870.5 311.5 L870.5 312.5 L871.5 314.5 L871.5 315.5 L872.5 317.5 L872.5 319.5 L873.5 320.5 L873.5 321.5 L874.5 323.5 L874.5 325.5 L875.5 326.5 L875.5 328.5 L876.5 329.5 L876.5 330.5 L877.5 331.5 L877.5 333.5 L878.5 334.5 L878.5 335.5 L879.5 336.5 L879.5 337.5 L880.5 338.5 L880.5 339.5 L881.5 341.5 L881.5 342.5 L882.5 343.5 L882.5 344.5 L883.5 346.5 L883.5 347.5 L884.5 348.5 L884.5 350.5 L885.5 352.5 L885.5 353.5 L886.5 354.5 L886.5 356.5 L887.5 357.5 L887.5 358.5 L888.5 359.5 L888.5 361.5 L889.5 362.5 L889.5 363.5 L890.5 364.5 L890.5 365.5 L891.5 367.5 L892.5 368.5 L892.5 370.5 L893.5 371.5 L894.5 372.5 L894.5 373.5 L895.5 373.5 L896.5 373.5 L897.5 373.5 L898.5 373.5 L899.5 374.5 L900.5 375.5 L901.5 376.5 L901.5 377.5 L902.5 377.5 L902.5 376.5 L903.5 375.5 L904.5 374.5 L905.5 373.5 L906.5 373.5 L906.5 372.5 L907.5 370.5 L907.5 369.5 L908.5 368.5 L908.5 366.5 L909.5 364.5 L909.5 363.5 L910.5 362.5 L910.5 361.5 L911.5 359.5 L912.5 358.5 L912.5 357.5 L913.5 356.5 L913.5 355.5 L914.5 354.5 L914.5 353.5 L915.5 351.5 L915.5 350.5 L916.5 349.5 L916.5 347.5 L917.5 346.5 L917.5 345.5 L918.5 343.5 L918.5 342.5 L919.5 340.5 L919.5 338.5 L920.5 336.5 L920.5 335.5 L921.5 332.5 L921.5 330.5 L922.5 328.5 L922.5 326.5 L923.5 324.5 L923.5 322.5 L924.5 320.5 L924.5 318.5 L925.5 315.5 L925.5 313.5 L926.5 312.5 L926.5 310.5 L927.5 308.5 L927.5 305.5 L928.5 304.5 L928.5 302.5 L929.5 299.5 L929.5 297.5 L930.5 295.5 L930.5 293.5 L931.5 291.5 L931.5 289.5" stroke="#000" stroke-width="1" fill="none" stroke-linecap="square"/>
<path d="M93.5 140.5 L94.5 132.5 L96.5 132.5 L98.5 124.5 L108.5 124.5 L108.5 116.5 L110.5 116.5 L111.5 124.5 L118.5 124.5 L119.5 116.5 L120.5 116.5 L209.5 157.5 L212.5 157.5 L212.5 148.5 L217.5 148.5 L217.5 140.5 L220.5 140.5 L220.5 132.5 L224.5 132.5 L224.5 124.5 L228.5 124.5 L228.5 116.5 L239.5 116.5 L239.5 124.5 L241.5 124.5 L241.5 132.5 L242.5 132.5 L242.5 140.5 L244.5 140.5 L244.5 148.5 L250.5 148.5 L250.5 157.5 L262.5 157.5 L262.5 165.5 L272.5 165.5 L272.5 173.5 L280.5 173.5 L280.5 181.5 L289.5 181.5 L289.5 189.5 L298.5 189.5 L298.5 197.5 L298.5 189.5 L304.5 189.5 L304.5 181.5 L312.5 181.5 L312.5 173.5 L320.5 173.5 L320.5 165.5 L325.5 165.5 L325.5 157.5 L330.5 157.5 L330.5 148.5 L334.5 148.5 L334.5 140.5 L338.5 140.5 L338.5 132.5 L343.5 132.5 L343.5 140.5 L346.5 140.5 L346.5 148.5 L352.5 148.5 L352.5 140.5 L354.5 140.5 L354.5 132.5 L359.5 132.5 L359.5 124.5 L374.5 124.5 L374.5 132.5 L376.5 132.5 L376.5 140.5 L378.5 140.5 L378.5 148.5 L382.5 148.5 L382.5 157.5 L387.5 157.5 L387.5 165.5 L393.5 165.5 L393.5 173.5 L400.5 173.5 L400.5 181.5 L405.5 181.5 L405.5 189.5 L410.5 189.5 L410.5 197.5 L415.5 197.5 L415.5 206.5 L423.5 206.5 L423.5 214.5 L433.5 214.5 L433.5 206.5 L439.5 206.5 L439.5 214.5 L450.5 214.5 L450.5 206.5 L459.5 206.5 L459.5 197.5 L460.5 197.5 L460.5 206.5 L463.5 206.5 L463.5 197.5 L464.5 197.5 L464.5 206.5 L465.5 206.5 L465.5 197.5 L467.5 197.5 L467.5 206.5 L473.5 206.5 L473.5 214.5 L477.5 214.5 L477.5 222.5 L482.5 222.5 L482.5 230.5 L487.5 230.5 L487.5 238.5 L494.5 238.5 L494.5 247.5 L500.5 247.5 L500.5 255.5 L505.5 255.5 L505.5 263.5 L509.5 263.5 L509.5 271.5 L514.5 271.5 L514.5 279.5 L520.5 279.5 L520.5 287.5 L537.5 287.5 L537.5 296.5 L550.5 296.5 L550.5 287.5 L555.5 287.5 L555.5 279.5 L569.5 279.5 L569.5 271.5 L574.5 271.5 L574.5 263.5 L577.5 263.5 L577.5 255.5 L580.5 255.5 L580.5 247.5 L586.5 247.5 L586.5 255.5 L591.5 255.5 L591.5 263.5 L595.5 263.5 L595.5 271.5 L598.5 271.5 L598.5 279.5 L601.5 279.5 L601.5 287.5 L605.5 287.5 L605.5 296.5 L610.5 296.5 L610.5 304.5 L618.5 304.5 L618.5 312.5 L626.5 312.5 L626.5 320.5 L633.5 320.5 L633.5 328.5 L639.5 328.5 L639.5 336.5 L644.5 336.5 L644.5 345.5 L649.5 345.5 L649.5 353.5 L654.5 353.5 L654.5 361.5 L667.5 361.5 L667.5 353.5 L669.5 353.5 L669.5 345.5 L670.5 345.5 L670.5 336.5 L675.5 336.5 L675.5 328.5 L678.5 328.5 L678.5 320.5 L680.5 320.5 L680.5 312.5 L682.5 312.5 L682.5 304.5 L686.5 304.5 L686.5 296.5 L688.5 296.5 L688.5 287.5 L689.5 287.5 L689.5 279.5 L691.5 279.5 L691.5 271.5 L693.5 271.5 L693.5 263.5 L695.5 263.5 L695.5 255.5 L697.5 255.5 L697.5 247.5 L699.5 247.5 L699.5 238.5 L701.5 238.5 L701.5 230.5 L703.5 230.5 L703.5 222.5 L705.5 222.5 L705.5 214.5 L709.5 214.5 L709.5 206.5 L716.5 206.5 L716.5 214.5 L721.5 214.5 L721.5 222.5 L726.5 222.5 L726.5 230.5 L735.5 230.5 L735.5 238.5 L743.5 238.5 L743.5 247.5 L748.5 247.5 L748.5 255.5 L750.5 255.5 L750.5 263.5 L752.5 263.5 L752.5 271.5 L754.5 271.5 L754.5 279.5 L756.5 279.5 L756.5 287.5 L758.5 287.5 L758.5 296.5 L760.5 296.5 L760.5 304.5 L761.5 304.5 L761.5 312.5 L763.5 312.5 L763.5 320.5 L766.5 320.5 L766.5 328.5 L769.5 328.5 L769.5 336.5 L771.5 336.5 L771.5 345.5 L773.5 345.5 L773.5 353.5 L775.5 353.5 L775.5 361.5 L778.5 361.5 L778.5 369.5 L787.5 369.5 L787.5 361.5 L790.5 361.5 L790.5 353.5 L793.5 353.5 L793.5 345.5 L798.5 345.5 L798.5 336.5 L800.5 336.5 L800.5 328.5 L803.5 328.5 L803.5 320.5 L805.5 320.5 L805.5 312.5 L807.5 312.5 L807.5 304.5 L809.5 304.5 L809.5 296.5 L811.5 296.5 L811.5 287.5 L813.5 287.5 L813.5 279.5 L815.5 279.5 L815.5 271.5 L817.5 271.5 L817.5 263.5 L819.5 263.5 L819.5 255.5 L821.5 255.5 L821.5 247.5 L823.5 247.5 L823.5 238.5 L826.5 238.5 L826.5 230.5 L829.5 230.5 L829.5 222.5 L841.5 222.5 L841.5 230.5 L847.5 230.5 L847.5 238.5 L851.5 238.5 L851.5 247.5 L853.5 247.5 L853.5 255.5 L855.5 255.5 L855.5 263.5 L857.5 263.5 L857.5 271.5 L860.5 271.5 L860.5 279.5 L863.5 279.5 L863.5 287.5 L865.5 287.5 L865.5 296.5 L867.5 296.5 L867.5 304.5 L870.5 304.5 L870.5 312.5 L872.5 312.5 L872.5 320.5 L875.5 320.5 L875.5 328.5 L878.5 328.5 L878.5 336.5 L882.5 336.5 L882.5 345.5 L885.5 345.5 L885.5 353.5 L888.5 353.5 L888.5 361.5 L891.5 361.5 L891.5 369.5 L900.5 369.5 L900.5 377.5 L903.5 377.5 L903.5 369.5 L908.5 369.5 L908.5 361.5 L911.5 361.5 L911.5 353.5 L915.5 353.5 L915.5 345.5 L918.5 345.5 L918.5 336.5 L920.5 336.5 L920.5 328.5 L922.5 328.5 L922.5 320.5 L924.5 320.5 L924.5 312.5 L926.5 312.5 L926.5 304.5 L928.5 304.5 L928.5 296.5 L930.5 296.5 L930.5 287.5 L931.5 287.5" stroke="#f00" stroke-width="1" fill="none" stroke-linecap="square"/>
<path d="M340.5 132.5 L341.5 127.5 L341.5 124.5 L341.5 127.5 L342.5 132.5" stroke="#f00" stroke-width="1" fill="none" stroke-linecap="square"/>
<path d="M581.5 247.5 L582.5 242.5 L582.5 238.5 L583.5 238.5 L583.5 242.5 L584.5 247.5" stroke="#f00" stroke-width="1" fill="none" stroke-linecap="square"/>
<path d="M93.5 140.5 L96.5 140.5 L96.5 132.5 L103.5 132.5 L103.5 124.5 L112.5 124.5 L112.5 132.5 L117.5 132.5 L117.5 124.5 L120.5 124.5 L209.5 165.5 L210.5 165.5 L210.5 157.5 L216.5 157.5 L216.5 148.5 L219.5 148.5 L219.5 140.5 L223.5 140.5 L223.5 132.5 L226.5 132.5 L226.5 124.5 L232.5 124.5 L232.5 116.5 L238.5 116.5 L238.5 124.5 L240.5 124.5 L240.5 132.5 L241.5 132.5 L241.5 140.5 L243.5 140.5 L243.5 148.5 L244.5 148.5 L244.5 157.5 L256.5 157.5 L256.5 165.5 L267.5 165.5 L267.5 173.5 L276.5 173.5 L276.5 181.5 L285.5 181.5 L285.5 189.5 L293.5 189.5 L293.5 197.5 L302.5 197.5 L302.5 189.5 L306.5 189.5 L306.5 181.5 L316.5 181.5 L316.5 173.5 L324.5 173.5 L324.5 165.5 L329.5 165.5 L329.5 157.5 L332.5 157.5 L332.5 148.5 L337.5 148.5 L337.5 140.5 L340.5 140.5 L340.5 132.5 L342.5 132.5 L342.5 140.5 L344.5 140.5 L344.5 148.5 L348.5 148.5 L348.5 157.5 L352.5 157.5 L352.5 148.5 L353.5 148.5 L353.5 140.5 L358.5 140.5 L358.5 132.5 L375.5 132.5 L375.5 140.5 L377.5 140.5 L377.5 148.5 L379.5 148.5 L379.5 157.5 L385.5 157.5 L385.5 165.5 L388.5 165.5 L388.5 173.5 L397.5 173.5 L397.5 181.5 L402.5 181.5 L402.5 189.5 L407.5 189.5 L407.5 197.5 L412.5 197.5 L412.5 206.5 L418.5 206.5 L418.5 214.5 L427.5 214.5 L427.5 222.5 L431.5 222.5 L431.5 214.5 L446.5 214.5 L446.5 222.5 L449.5 222.5 L449.5 214.5 L457.5 214.5 L457.5 206.5 L471.5 206.5 L471.5 214.5 L475.5 214.5 L475.5 222.5 L479.5 222.5 L479.5 230.5 L484.5 230.5 L484.5 238.5 L491.5 238.5 L491.5 247.5 L497.5 247.5 L497.5 255.5 L502.5 255.5 L502.5 263.5 L507.5 263.5 L507.5 271.5 L511.5 271.5 L511.5 279.5 L517.5 279.5 L517.5 287.5 L523.5 287.5 L523.5 296.5 L538.5 296.5 L538.5 304.5 L544.5 304.5 L544.5 296.5 L547.5 296.5 L547.5 304.5 L547.5 296.5 L553.5 296.5 L553.5 287.5 L566.5 287.5 L566.5 279.5 L573.5 279.5 L573.5 271.5 L576.5 271.5 L576.5 263.5 L579.5 263.5 L579.5 255.5 L581.5 255.5 L581.5 247.5 L584.5 247.5 L584.5 255.5 L588.5 255.5 L588.5 263.5 L594.5 263.5 L594.5 271.5 L596.5 271.5 L596.5 279.5 L598.5 279.5 L598.5 287.5 L604.5 287.5 L604.5 296.5 L606.5 296.5 L606.5 304.5 L613.5 304.5 L613.5 312.5 L622.5 312.5 L622.5 320.5 L630.5 320.5 L630.5 328.5 L636.5 328.5 L636.5 336.5 L641.5 336.5 L641.5 345.5 L647.5 345.5 L647.5 353.5 L651.5 353.5 L651.5 361.5 L656.5 361.5 L656.5 369.5 L660.5 369.5 L660.5 361.5 L667.5 361.5 L667.5 353.5 L668.5 353.5 L668.5 345.5 L673.5 345.5 L673.5 336.5 L677.5 336.5 L677.5 328.5 L679.5 328.5 L679.5 320.5 L681.5 320.5 L681.5 312.5 L685.5 312.5 L685.5 304.5 L687.5 304.5 L687.5 296.5 L689.5 296.5 L689.5 287.5 L690.5 287.5 L690.5 279.5 L692.5 279.5 L692.5 271.5 L694.5 271.5 L694.5 263.5 L696.5 263.5 L696.5 255.5 L698.5 255.5 L698.5 247.5 L700.5 247.5 L700.5 238.5 L703.5 238.5 L703.5 230.5 L705.5 230.5 L705.5 222.5 L709.5 222.5 L709.5 214.5 L716.5 214.5 L716.5 222.5 L721.5 222.5 L721.5 230.5 L731.5 230.5 L731.5 238.5 L740.5 238.5 L740.5 247.5 L746.5 247.5 L746.5 255.5 L749.5 255.5 L749.5 263.5 L751.5 263.5 L751.5 271.5 L753.5 271.5 L753.5 279.5 L755.5 279.5 L755.5 287.5 L757.5 287.5 L757.5 296.5 L759.5 296.5 L759.5 304.5 L760.5 304.5 L760.5 312.5 L762.5 312.5 L762.5 320.5 L765.5 320.5 L765.5 328.5 L767.5 328.5 L767.5 336.5 L770.5 336.5 L770.5 345.5 L771.5 345.5 L771.5 353.5 L775.5 353.5 L775.5 361.5 L775.5 369.5 L780.5 369.5 L780.5 377.5 L783.5 377.5 L783.5 369.5 L784.5 369.5 L784.5 377.5 L786.5 377.5 L786.5 369.5 L790.5 369.5 L790.5 361.5 L792.5 361.5 L792.5 353.5 L797.5 353.5 L797.5 345.5 L800.5 345.5 L800.5 336.5 L802.5 336.5 L802.5 328.5 L804.5 328.5 L804.5 320.5 L806.5 320.5 L806.5 312.5 L808.5 312.5 L808.5 304.5 L810.5 304.5 L810.5 296.5 L812.5 296.5 L812.5 287.5 L814.5 287.5 L814.5 279.5 L816.5 279.5 L816.5 271.5 L818.5 271.5 L818.5 263.5 L820.5 263.5 L820.5 255.5 L823.5 255.5 L823.5 247.5 L825.5 247.5 L825.5 238.5 L828.5 238.5 L828.5 230.5 L830.5 230.5 L830.5 222.5 L837.5 222.5 L837.5 230.5 L844.5 230.5 L844.5 238.5 L850.5 238.5 L850.5 247.5 L852.5 247.5 L852.5 255.5 L854.5 255.5 L854.5 263.5 L855.5 263.5 L855.5 271.5 L858.5 271.5 L858.5 279.5 L861.5 279.5 L861.5 287.5 L863.5 287.5 L863.5 296.5 L866.5 296.5 L866.5 304.5 L868.5 304.5 L868.5 312.5 L871.5 312.5 L871.5 320.5 L873.5 320.5 L873.5 328.5 L876.5 328.5 L876.5 336.5 L880.5 336.5 L880.5 345.5 L883.5 345.5 L883.5 353.5 L886.5 353.5 L886.5 361.5 L889.5 361.5 L889.5 369.5 L893.5 369.5 L893.5 377.5 L907.5 377.5 L907.5 369.5 L910.5 369.5 L910.5 361.5 L914.5 361.5 L914.5 353.5 L917.5 353.5 L917.5 345.5 L920.5 345.5 L920.5 336.5 L922.5 336.5 L922.5 328.5 L923.5 328.5 L923.5 320.5 L925.5 320.5 L925.5 312.5 L928.5 312.5 L928.5 304.5 L929.5 304.5 L929.5 296.5 L931.5 296.5 L931.5 287.5" stroke="#0f0" stroke-width="1" fill="none" stroke-linecap="square"/>
<rect x="203" y="453" width="68" height="1" fill="#000"/>
<rect x="447" y="453" width="68" height="1" fill="#f00"/>
<rect x="690" y="453" width="68" height="1" fill="#0f0"/>
<path d="M91.5 24.683 L91.5 30.5 M91.5 30.5 L94.896 30.5 M97.726 24.683 L97.16 24.96 L96.594 25.514 L96.311 26.068 L96.028 26.899 L96.028 28.284 L96.311 29.115 L96.594 29.669 L97.16 30.223 L97.726 30.5 L98.858 30.5 L99.424 30.223 L99.99 29.669 L100.273 29.115 L100.556 28.284 L100.556 26.899 L100.273 26.068 L99.99 25.514 L99.424 24.96 L98.858 24.683 L97.726 24.683 M102.537 24.683 L102.537 30.5 M102.537 24.683 L106.499 30.5 M106.499 24.683 L106.499 30.5 M112.725 26.068 L112.442 25.514 L111.876 24.96 L111.31 24.683 L110.178 24.683 L109.612 24.96 L109.046 25.514 L108.763 26.068 L108.48 26.899 L108.48 28.284 L108.763 29.115 L109.046 29.669 L109.612 30.223 L110.178 30.5 L111.31 30.5 L111.876 30.223 L112.442 29.669 L112.725 29.115 L112.725 28.284 M111.31 28.284 L112.725 28.284 M114.706 24.683 L114.706 30.5 M118.102 24.683 L118.102 30.5 M116.121 24.683 L120.083 24.683 M121.498 24.683 L121.498 28.838 L121.781 29.669 L122.347 30.223 L123.196 30.5 L123.762 30.5 L124.611 30.223 L125.177 29.669 L125.46 28.838 L125.46 24.683 M127.724 24.683 L127.724 30.5 M127.724 24.683 L129.705 24.683 L130.554 24.96 L131.12 25.514 L131.403 26.068 L131.686 26.899 L131.686 28.284 L131.403 29.115 L131.12 29.669 L130.554 30.223 L129.705 30.5 L127.724 30.5 M133.667 24.683 L133.667 30.5 M133.667 24.683 L137.346 24.683 M133.667 27.453 L135.931 27.453 M133.667 30.5 L137.346 30.5 M143.855 26.622 L143.572 26.899 L143.855 27.176 L144.138 26.899 L143.855 26.622 M143.855 29.946 L143.572 30.223 L143.855 30.5 L144.138 30.223 L143.855 29.946 M151.496 25.791 L152.062 25.514 L152.911 24.683 L152.911 30.5 M156.59 26.068 L156.59 25.791 L156.873 25.237 L157.156 24.96 L157.722 24.683 L158.854 24.683 L159.42 24.96 L159.703 25.237 L159.986 25.791 L159.986 26.345 L159.703 26.899 L159.137 27.73 L156.307 30.5 L160.269 30.5 M162.816 25.791 L163.382 25.514 L164.231 24.683 L164.231 30.5 M168.193 29.946 L167.91 30.223 L168.193 30.5 L168.476 30.223 L168.193 29.946 M174.136 25.514 L173.853 24.96 L173.004 24.683 L172.438 24.683 L171.589 24.96 L171.023 25.791 L170.74 27.176 L170.74 28.561 L171.023 29.669 L171.589 30.223 L172.438 30.5 L172.721 30.5 L173.57 30.223 L174.136 29.669 L174.419 28.838 L174.419 28.561 L174.136 27.73 L173.57 27.176 L172.721 26.899 L172.438 26.899 L171.589 27.176 L171.023 27.73 L170.74 28.561 M175.834 24.683 L177.249 30.5 M178.664 24.683 L177.249 30.5 M178.664 24.683 L180.079 30.5 M181.494 24.683 L180.079 30.5 M185.173 23.575 L184.607 24.129 L184.041 24.96 L183.475 26.068 L183.192 27.453 L183.192 28.561 L183.475 29.946 L184.041 31.054 L184.607 31.885 L185.173 32.439 M187.154 28.007 L193.38 28.007 M196.21 25.791 L196.776 25.514 L197.625 24.683 L197.625 30.5 M201.304 26.068 L201.304 25.791 L201.587 25.237 L201.87 24.96 L202.436 24.683 L203.568 24.683 L204.134 24.96 L204.417 25.237 L204.7 25.791 L204.7 26.345 L204.417 26.899 L203.851 27.73 L201.021 30.5 L204.983 30.5 M207.53 25.791 L208.096 25.514 L208.945 24.683 L208.945 30.5 M212.907 29.946 L212.624 30.223 L212.907 30.5 L213.19 30.223 L212.907 29.946 M218.85 25.514 L218.567 24.96 L217.718 24.683 L217.152 24.683 L216.303 24.96 L215.737 25.791 L215.454 27.176 L215.454 28.561 L215.737 29.669 L216.303 30.223 L217.152 30.5 L217.435 30.5 L218.284 30.223 L218.85 29.669 L219.133 28.838 L219.133 28.561 L218.85 27.73 L218.284 27.176 L217.435 26.899 L217.152 26.899 L216.303 27.176 L215.737 27.73 L215.454 28.561 M220.831 23.575 L221.397 24.129 L221.963 24.96 L222.529 26.068 L222.812 27.453 L222.812 28.561 L222.529 29.946 L221.963 31.054 L221.397 31.885 L220.831 32.439 M91.5 34.353 L91.5 40.17 M91.5 40.17 L94.896 40.17 M97.726 34.353 L95.462 40.17 M97.726 34.353 L99.99 40.17 M96.311 38.231 L99.141 38.231 M102.537 34.353 L102.537 40.17 M100.556 34.353 L104.518 34.353 M105.933 34.353 L105.933 40.17 M109.329 34.353 L109.329 40.17 M107.348 34.353 L111.31 34.353 M112.725 34.353 L112.725 38.508 L113.008 39.339 L113.574 39.893 L114.423 40.17 L114.989 40.17 L115.838 39.893 L116.404 39.339 L116.687 38.508 L116.687 34.353 M118.951 34.353 L118.951 40.17 M118.951 34.353 L120.932 34.353 L121.781 34.63 L122.347 35.184 L122.63 35.738 L122.913 36.569 L122.913 37.954 L122.63 38.785 L122.347 39.339 L121.781 39.893 L120.932 40.17 L118.951 40.17 M124.894 34.353 L124.894 40.17 M124.894 34.353 L128.573 34.353 M124.894 37.123 L127.158 37.123 M124.894 40.17 L128.573 40.17 M135.082 36.292 L134.799 36.569 L135.082 36.846 L135.365 36.569 L135.082 36.292 M135.082 39.616 L134.799 39.893 L135.082 40.17 L135.365 39.893 L135.082 39.616 M142.44 34.353 L145.553 34.353 L143.855 36.569 L144.704 36.569 L145.27 36.846 L145.553 37.123 L145.836 37.954 L145.836 38.508 L145.553 39.339 L144.987 39.893 L144.138 40.17 L143.289 40.17 L142.44 39.893 L142.157 39.616 L141.874 39.062 M151.213 35.184 L150.93 34.63 L150.081 34.353 L149.515 34.353 L148.666 34.63 L148.1 35.461 L147.817 36.846 L147.817 38.231 L148.1 39.339 L148.666 39.893 L149.515 40.17 L149.798 40.17 L150.647 39.893 L151.213 39.339 L151.496 38.508 L151.496 38.231 L151.213 37.4 L150.647 36.846 L149.798 36.569 L149.515 36.569 L148.666 36.846 L148.1 37.4 L147.817 38.231 M153.76 39.616 L153.477 39.893 L153.76 40.17 L154.043 39.893 L153.76 39.616 M157.439 34.353 L156.59 34.63 L156.307 35.184 L156.307 35.738 L156.59 36.292 L157.156 36.569 L158.288 36.846 L159.137 37.123 L159.703 37.677 L159.986 38.231 L159.986 39.062 L159.703 39.616 L159.42 39.893 L158.571 40.17 L157.439 40.17 L156.59 39.893 L156.307 39.616 L156.024 39.062 L156.024 38.231 L156.307 37.677 L156.873 37.123 L157.722 36.846 L158.854 36.569 L159.42 36.292 L159.703 35.738 L159.703 35.184 L159.42 34.63 L158.571 34.353 L157.439 34.353 M161.967 34.353 L161.967 40.17 M161.967 34.353 L165.929 40.17 M165.929 34.353 L165.929 40.17 M91.5 44.023 L91.5 49.84 M91.5 44.023 L93.481 44.023 L94.33 44.3 L94.896 44.854 L95.179 45.408 L95.462 46.239 L95.462 47.624 L95.179 48.455 L94.896 49.009 L94.33 49.563 L93.481 49.84 L91.5 49.84 M97.443 44.023 L97.443 49.84 M97.443 44.023 L101.122 44.023 M97.443 46.793 L99.707 46.793 M97.443 49.84 L101.122 49.84 M102.82 44.023 L102.82 49.84 M102.82 44.023 L105.367 44.023 L106.216 44.3 L106.499 44.577 L106.782 45.131 L106.782 45.962 L106.499 46.516 L106.216 46.793 L105.367 47.07 L102.82 47.07 M109.895 44.023 L109.895 49.84 M107.914 44.023 L111.876 44.023 M113.291 44.023 L113.291 49.84 M117.253 44.023 L117.253 49.84 M113.291 46.793 L117.253 46.793 M126.026 42.915 L125.46 43.469 L124.894 44.3 L124.328 45.408 L124.045 46.793 L124.045 47.901 L124.328 49.286 L124.894 50.394 L125.46 51.225 L126.026 51.779 M128.007 45.962 L128.007 49.84 M128.007 47.07 L128.856 46.239 L129.422 45.962 L130.271 45.962 L130.837 46.239 L131.12 47.07 L131.12 49.84 M131.12 47.07 L131.969 46.239 L132.535 45.962 L133.384 45.962 L133.95 46.239 L134.233 47.07 L134.233 49.84 M136.214 42.915 L136.78 43.469 L137.346 44.3 L137.912 45.408 L138.195 46.793 L138.195 47.901 L137.912 49.286 L137.346 50.394 L136.78 51.225 L136.214 51.779 M145.27 45.962 L144.987 46.239 L145.27 46.516 L145.553 46.239 L145.27 45.962 M145.27 49.286 L144.987 49.563 L145.27 49.84 L145.553 49.563 L145.27 49.286 M152.911 45.131 L153.477 44.854 L154.326 44.023 L154.326 49.84 M91.5 53.693 L93.764 56.463 L93.764 59.51 M96.028 53.693 L93.764 56.463 M97.443 53.693 L97.443 59.51 M97.443 53.693 L101.122 53.693 M97.443 56.463 L99.707 56.463 M97.443 59.51 L101.122 59.51 M104.235 53.693 L101.971 59.51 M104.235 53.693 L106.499 59.51 M102.82 57.571 L105.65 57.571 M107.914 53.693 L107.914 59.51 M107.914 53.693 L110.461 53.693 L111.31 53.97 L111.593 54.247 L111.876 54.801 L111.876 55.355 L111.593 55.909 L111.31 56.186 L110.461 56.463 L107.914 56.463 M109.895 56.463 L111.876 59.51 M118.668 55.632 L118.385 55.909 L118.668 56.186 L118.951 55.909 L118.668 55.632 M118.668 58.956 L118.385 59.233 L118.668 59.51 L118.951 59.233 L118.668 58.956 M125.743 55.078 L125.743 54.801 L126.026 54.247 L126.309 53.97 L126.875 53.693 L128.007 53.693 L128.573 53.97 L128.856 54.247 L129.139 54.801 L129.139 55.355 L128.856 55.909 L128.29 56.74 L125.46 59.51 L129.422 59.51 M132.818 53.693 L131.969 53.97 L131.403 54.801 L131.12 56.186 L131.12 57.017 L131.403 58.402 L131.969 59.233 L132.818 59.51 L133.384 59.51 L134.233 59.233 L134.799 58.402 L135.082 57.017 L135.082 56.186 L134.799 54.801 L134.233 53.97 L133.384 53.693 L132.818 53.693 M138.478 53.693 L137.629 53.97 L137.063 54.801 L136.78 56.186 L136.78 57.017 L137.063 58.402 L137.629 59.233 L138.478 59.51 L139.044 59.51 L139.893 59.233 L140.459 58.402 L140.742 57.017 L140.742 56.186 L140.459 54.801 L139.893 53.97 L139.044 53.693 L138.478 53.693 M146.119 55.632 L145.836 56.463 L145.27 57.017 L144.421 57.294 L144.138 57.294 L143.289 57.017 L142.723 56.463 L142.44 55.632 L142.44 55.355 L142.723 54.524 L143.289 53.97 L144.138 53.693 L144.421 53.693 L145.27 53.97 L145.836 54.524 L146.119 55.632 L146.119 57.017 L145.836 58.402 L145.27 59.233 L144.421 59.51 L143.855 59.51 L143.006 59.233 L142.723 58.679 M223.5 71.4154 L223.5 80.5 M223.5 71.4154 L226.961 80.5 M230.422 71.4154 L226.961 80.5 M230.422 71.4154 L230.422 80.5 M235.613 74.4436 L234.748 74.8762 L233.882 75.7414 L233.45 77.0392 L233.45 77.9044 L233.882 79.2022 L234.748 80.0674 L235.613 80.5 L236.911 80.5 L237.776 80.0674 L238.641 79.2022 L239.074 77.9044 L239.074 77.0392 L238.641 75.7414 L237.776 74.8762 L236.911 74.4436 L235.613 74.4436 M243.832 74.4436 L242.967 74.8762 L242.102 75.7414 L241.669 77.0392 L241.669 77.9044 L242.102 79.2022 L242.967 80.0674 L243.832 80.5 L245.13 80.5 L245.995 80.0674 L246.86 79.2022 L247.293 77.9044 L247.293 77.0392 L246.86 75.7414 L245.995 74.8762 L245.13 74.4436 L243.832 74.4436 M250.321 74.4436 L250.321 80.5 M250.321 77.0392 L250.754 75.7414 L251.619 74.8762 L252.484 74.4436 L253.782 74.4436 M255.339 71.4154 L255.772 71.848 L256.205 71.4154 L255.772 70.9828 L255.339 71.4154 M255.772 74.4436 L255.772 80.5 M259.06 74.4436 L259.06 80.5 M259.06 76.174 L260.358 74.8762 L261.223 74.4436 L262.521 74.4436 L263.386 74.8762 L263.818 76.174 L263.818 80.5 M272.038 74.4436 L272.038 81.3652 L271.605 82.663 L271.173 83.0956 L270.307 83.5282 L269.01 83.5282 L268.144 83.0956 M272.038 75.7414 L271.173 74.8762 L270.307 74.4436 L269.01 74.4436 L268.144 74.8762 L267.279 75.7414 L266.847 77.0392 L266.847 77.9044 L267.279 79.2022 L268.144 80.0674 L269.01 80.5 L270.307 80.5 L271.173 80.0674 L272.038 79.2022 M282.42 71.4154 L282.42 80.5 M282.42 71.4154 L285.881 80.5 M289.342 71.4154 L285.881 80.5 M289.342 71.4154 L289.342 80.5 M292.803 71.4154 L292.803 77.9044 L293.235 79.2022 L294.1 80.0674 L295.398 80.5 L296.263 80.5 L297.561 80.0674 L298.426 79.2022 L298.859 77.9044 L298.859 71.4154 M308.376 73.5784 L307.944 72.7132 L307.078 71.848 L306.213 71.4154 L304.483 71.4154 L303.618 71.848 L302.752 72.7132 L302.32 73.5784 L301.887 74.8762 L301.887 77.0392 L302.32 78.337 L302.752 79.2022 L303.618 80.0674 L304.483 80.5 L306.213 80.5 L307.078 80.0674 L307.944 79.2022 L308.376 78.337 M311.404 71.4154 L311.404 80.5 M311.404 71.4154 L317.028 71.4154 M311.404 75.7414 L314.865 75.7414 M311.404 80.5 L317.028 80.5 M319.624 73.5784 L319.624 73.1458 L320.056 72.2806 L320.489 71.848 L321.354 71.4154 L323.085 71.4154 L323.95 71.848 L324.382 72.2806 L324.815 73.1458 L324.815 74.011 L324.382 74.8762 L323.517 76.174 L319.191 80.5 L325.248 80.5 M330.439 71.4154 L329.141 71.848 L328.276 73.1458 L327.843 75.3088 L327.843 76.6066 L328.276 78.7696 L329.141 80.0674 L330.439 80.5 L331.304 80.5 L332.602 80.0674 L333.467 78.7696 L333.9 76.6066 L333.9 75.3088 L333.467 73.1458 L332.602 71.848 L331.304 71.4154 L330.439 71.4154 M339.091 71.4154 L337.793 71.848 L336.928 73.1458 L336.495 75.3088 L336.495 76.6066 L336.928 78.7696 L337.793 80.0674 L339.091 80.5 L339.956 80.5 L341.254 80.0674 L342.119 78.7696 L342.552 76.6066 L342.552 75.3088 L342.119 73.1458 L341.254 71.848 L339.956 71.4154 L339.091 71.4154 M350.771 74.4436 L350.338 75.7414 L349.473 76.6066 L348.175 77.0392 L347.743 77.0392 L346.445 76.6066 L345.58 75.7414 L345.147 74.4436 L345.147 74.011 L345.58 72.7132 L346.445 71.848 L347.743 71.4154 L348.175 71.4154 L349.473 71.848 L350.338 72.7132 L350.771 74.4436 L350.771 76.6066 L350.338 78.7696 L349.473 80.0674 L348.175 80.5 L347.31 80.5 L346.012 80.0674 L345.58 79.2022 M367.21 73.5784 L366.777 72.7132 L365.912 71.848 L365.047 71.4154 L363.316 71.4154 L362.451 71.848 L361.586 72.7132 L361.153 73.5784 L360.721 74.8762 L360.721 77.0392 L361.153 78.337 L361.586 79.2022 L362.451 80.0674 L363.316 80.5 L365.047 80.5 L365.912 80.0674 L366.777 79.2022 L367.21 78.337 M371.968 74.4436 L371.103 74.8762 L370.238 75.7414 L369.805 77.0392 L369.805 77.9044 L370.238 79.2022 L371.103 80.0674 L371.968 80.5 L373.266 80.5 L374.131 80.0674 L374.997 79.2022 L375.429 77.9044 L375.429 77.0392 L374.997 75.7414 L374.131 74.8762 L373.266 74.4436 L371.968 74.4436 M378.457 74.4436 L378.457 80.5 M378.457 76.174 L379.755 74.8762 L380.62 74.4436 L381.918 74.4436 L382.783 74.8762 L383.216 76.174 L383.216 80.5 M387.109 71.4154 L387.109 78.7696 L387.542 80.0674 L388.407 80.5 L389.272 80.5 M385.812 74.4436 L388.84 74.4436 M391.868 74.4436 L391.868 80.5 M391.868 77.0392 L392.301 75.7414 L393.166 74.8762 L394.031 74.4436 L395.329 74.4436 M399.222 74.4436 L398.357 74.8762 L397.492 75.7414 L397.059 77.0392 L397.059 77.9044 L397.492 79.2022 L398.357 80.0674 L399.222 80.5 L400.52 80.5 L401.385 80.0674 L402.25 79.2022 L402.683 77.9044 L402.683 77.0392 L402.25 75.7414 L401.385 74.8762 L400.52 74.4436 L399.222 74.4436 M405.538 71.4154 L405.538 80.5 M408.653 71.4154 L408.653 80.5 M411.508 77.0392 L416.699 77.0392 L416.699 76.174 L416.267 75.3088 L415.834 74.8762 L414.969 74.4436 L413.671 74.4436 L412.806 74.8762 L411.941 75.7414 L411.508 77.0392 L411.508 77.9044 L411.941 79.2022 L412.806 80.0674 L413.671 80.5 L414.969 80.5 L415.834 80.0674 L416.699 79.2022 M419.727 74.4436 L419.727 80.5 M419.727 77.0392 L420.16 75.7414 L421.025 74.8762 L421.89 74.4436 L423.188 74.4436 M425.351 76.6066 L434.868 76.6066 M438.329 71.4154 L438.329 80.5 M438.329 71.4154 L442.223 71.4154 L443.52 71.848 L443.953 72.2806 L444.386 73.1458 L444.386 74.4436 L443.953 75.3088 L443.52 75.7414 L442.223 76.174 L438.329 76.174 M449.144 74.4436 L448.279 74.8762 L447.414 75.7414 L446.981 77.0392 L446.981 77.9044 L447.414 79.2022 L448.279 80.0674 L449.144 80.5 L450.442 80.5 L451.307 80.0674 L452.172 79.2022 L452.605 77.9044 L452.605 77.0392 L452.172 75.7414 L451.307 74.8762 L450.442 74.4436 L449.144 74.4436 M455.201 74.4436 L456.931 80.5 M458.661 74.4436 L456.931 80.5 M458.661 74.4436 L460.392 80.5 M462.122 74.4436 L460.392 80.5 M464.718 77.0392 L469.909 77.0392 L469.909 76.174 L469.476 75.3088 L469.044 74.8762 L468.179 74.4436 L466.881 74.4436 L466.016 74.8762 L465.15 75.7414 L464.718 77.0392 L464.718 77.9044 L465.15 79.2022 L466.016 80.0674 L466.881 80.5 L468.179 80.5 L469.044 80.0674 L469.909 79.2022 M472.937 74.4436 L472.937 80.5 M472.937 77.0392 L473.37 75.7414 L474.235 74.8762 L475.1 74.4436 L476.398 74.4436 M490.241 71.4154 L490.241 80.5 M490.241 75.7414 L489.376 74.8762 L488.511 74.4436 L487.213 74.4436 L486.348 74.8762 L485.483 75.7414 L485.05 77.0392 L485.05 77.9044 L485.483 79.2022 L486.348 80.0674 L487.213 80.5 L488.511 80.5 L489.376 80.0674 L490.241 79.2022 M498.461 74.4436 L498.461 80.5 M498.461 75.7414 L497.595 74.8762 L496.73 74.4436 L495.432 74.4436 L494.567 74.8762 L493.702 75.7414 L493.269 77.0392 L493.269 77.9044 L493.702 79.2022 L494.567 80.0674 L495.432 80.5 L496.73 80.5 L497.595 80.0674 L498.461 79.2022 M502.354 71.4154 L502.354 78.7696 L502.787 80.0674 L503.652 80.5 L504.517 80.5 M501.056 74.4436 L504.084 74.4436 M511.871 74.4436 L511.871 80.5 M511.871 75.7414 L511.006 74.8762 L510.141 74.4436 L508.843 74.4436 L507.978 74.8762 L507.113 75.7414 L506.68 77.0392 L506.68 77.9044 L507.113 79.2022 L507.978 80.0674 L508.843 80.5 L510.141 80.5 L511.006 80.0674 L511.871 79.2022 M524.849 71.4154 L523.984 71.4154 L523.119 71.848 L522.686 73.1458 L522.686 80.5 M521.388 74.4436 L524.417 74.4436 M527.445 74.4436 L527.445 80.5 M527.445 77.0392 L527.877 75.7414 L528.743 74.8762 L529.608 74.4436 L530.906 74.4436 M534.799 74.4436 L533.934 74.8762 L533.069 75.7414 L532.636 77.0392 L532.636 77.9044 L533.069 79.2022 L533.934 80.0674 L534.799 80.5 L536.097 80.5 L536.962 80.0674 L537.827 79.2022 L538.26 77.9044 L538.26 77.0392 L537.827 75.7414 L536.962 74.8762 L536.097 74.4436 L534.799 74.4436 M541.288 74.4436 L541.288 80.5 M541.288 76.174 L542.586 74.8762 L543.451 74.4436 L544.749 74.4436 L545.614 74.8762 L546.047 76.174 L546.047 80.5 M546.047 76.174 L547.344 74.8762 L548.21 74.4436 L549.507 74.4436 L550.373 74.8762 L550.805 76.174 L550.805 80.5 M561.188 71.4154 L561.188 80.5 M561.188 71.4154 L564.648 80.5 M568.109 71.4154 L564.648 80.5 M568.109 71.4154 L568.109 80.5 M571.57 71.4154 L571.57 80.5 M571.57 71.4154 L575.463 71.4154 L576.761 71.848 L577.194 72.2806 L577.626 73.1458 L577.626 74.011 L577.194 74.8762 L576.761 75.3088 L575.463 75.7414 M571.57 75.7414 L575.463 75.7414 L576.761 76.174 L577.194 76.6066 L577.626 77.4718 L577.626 78.7696 L577.194 79.6348 L576.761 80.0674 L575.463 80.5 L571.57 80.5 M582.818 71.4154 L579.357 80.5 M582.818 71.4154 L586.278 80.5 M580.655 77.4718 L584.981 77.4718 M588.441 71.4154 L588.441 80.5 M588.441 71.4154 L592.335 71.4154 L593.633 71.848 L594.065 72.2806 L594.498 73.1458 L594.498 74.011 L594.065 74.8762 L593.633 75.3088 L592.335 75.7414 L588.441 75.7414 M591.47 75.7414 L594.498 80.5 M597.526 71.4154 L597.526 80.5 M612.667 74.4436 L612.667 80.5 M612.667 75.7414 L611.802 74.8762 L610.937 74.4436 L609.639 74.4436 L608.774 74.8762 L607.908 75.7414 L607.476 77.0392 L607.476 77.9044 L607.908 79.2022 L608.774 80.0674 L609.639 80.5 L610.937 80.5 L611.802 80.0674 L612.667 79.2022 M616.56 71.4154 L616.56 78.7696 L616.993 80.0674 L617.858 80.5 L618.723 80.5 M615.263 74.4436 L618.291 74.4436 M629.971 74.4436 L629.106 74.8762 L628.241 75.7414 L627.808 77.0392 L627.808 77.9044 L628.241 79.2022 L629.106 80.0674 L629.971 80.5 L631.269 80.5 L632.134 80.0674 L632.999 79.2022 L633.432 77.9044 L633.432 77.0392 L632.999 75.7414 L632.134 74.8762 L631.269 74.4436 L629.971 74.4436 M636.46 74.4436 L636.46 80.5 M636.46 77.0392 L636.893 75.7414 L637.758 74.8762 L638.623 74.4436 L639.921 74.4436 M641.478 71.4154 L641.911 71.848 L642.343 71.4154 L641.911 70.9828 L641.478 71.4154 M641.911 74.4436 L641.911 80.5 M649.957 74.4436 L649.957 81.3652 L649.524 82.663 L649.092 83.0956 L648.227 83.5282 L646.929 83.5282 L646.064 83.0956 M649.957 75.7414 L649.092 74.8762 L648.227 74.4436 L646.929 74.4436 L646.064 74.8762 L645.198 75.7414 L644.766 77.0392 L644.766 77.9044 L645.198 79.2022 L646.064 80.0674 L646.929 80.5 L648.227 80.5 L649.092 80.0674 L649.957 79.2022 M652.812 71.4154 L653.245 71.848 L653.677 71.4154 L653.245 70.9828 L652.812 71.4154 M653.245 74.4436 L653.245 80.5 M656.533 74.4436 L656.533 80.5 M656.533 76.174 L657.83 74.8762 L658.696 74.4436 L659.993 74.4436 L660.859 74.8762 L661.291 76.174 L661.291 80.5 M669.511 74.4436 L669.511 80.5 M669.511 75.7414 L668.645 74.8762 L667.78 74.4436 L666.482 74.4436 L665.617 74.8762 L664.752 75.7414 L664.319 77.0392 L664.319 77.9044 L664.752 79.2022 L665.617 80.0674 L666.482 80.5 L667.78 80.5 L668.645 80.0674 L669.511 79.2022 M672.798 71.4154 L672.798 80.5 M687.334 75.7414 L686.901 74.8762 L685.603 74.4436 L684.306 74.4436 L683.008 74.8762 L682.575 75.7414 L683.008 76.6066 L683.873 77.0392 L686.036 77.4718 L686.901 77.9044 L687.334 78.7696 L687.334 79.2022 L686.901 80.0674 L685.603 80.5 L684.306 80.5 L683.008 80.0674 L682.575 79.2022 M695.121 74.4436 L695.121 80.5 M695.121 75.7414 L694.255 74.8762 L693.39 74.4436 L692.092 74.4436 L691.227 74.8762 L690.362 75.7414 L689.929 77.0392 L689.929 77.9044 L690.362 79.2022 L691.227 80.0674 L692.092 80.5 L693.39 80.5 L694.255 80.0674 L695.121 79.2022 M698.581 74.4436 L698.581 80.5 M698.581 76.174 L699.879 74.8762 L700.744 74.4436 L702.042 74.4436 L702.907 74.8762 L703.34 76.174 L703.34 80.5 M703.34 76.174 L704.638 74.8762 L705.503 74.4436 L706.801 74.4436 L707.666 74.8762 L708.099 76.174 L708.099 80.5 M711.559 74.4436 L711.559 83.5282 M711.559 75.7414 L712.425 74.8762 L713.29 74.4436 L714.588 74.4436 L715.453 74.8762 L716.318 75.7414 L716.751 77.0392 L716.751 77.9044 L716.318 79.2022 L715.453 80.0674 L714.588 80.5 L713.29 80.5 L712.425 80.0674 L711.559 79.2022 M719.606 71.4154 L719.606 80.5 M722.288 71.4154 L722.72 71.848 L723.153 71.4154 L722.72 70.9828 L722.288 71.4154 M722.72 74.4436 L722.72 80.5 M726.008 74.4436 L726.008 80.5 M726.008 76.174 L727.306 74.8762 L728.171 74.4436 L729.469 74.4436 L730.334 74.8762 L730.767 76.174 L730.767 80.5 M738.986 74.4436 L738.986 81.3652 L738.554 82.663 L738.121 83.0956 L737.256 83.5282 L735.958 83.5282 L735.093 83.0956 M738.986 75.7414 L738.121 74.8762 L737.256 74.4436 L735.958 74.4436 L735.093 74.8762 L734.228 75.7414 L733.795 77.0392 L733.795 77.9044 L734.228 79.2022 L735.093 80.0674 L735.958 80.5 L737.256 80.5 L738.121 80.0674 L738.986 79.2022 M748.763 71.4154 L749.196 71.848 L749.628 71.4154 L749.196 70.9828 L748.763 71.4154 M749.196 74.4436 L749.196 80.5 M752.483 74.4436 L752.483 80.5 M752.483 76.174 L753.781 74.8762 L754.646 74.4436 L755.944 74.4436 L756.809 74.8762 L757.242 76.174 L757.242 80.5 M761.135 71.4154 L761.135 78.7696 L761.568 80.0674 L762.433 80.5 L763.298 80.5 M759.837 74.4436 L762.866 74.4436 M765.461 77.0392 L770.652 77.0392 L770.652 76.174 L770.22 75.3088 L769.787 74.8762 L768.922 74.4436 L767.624 74.4436 L766.759 74.8762 L765.894 75.7414 L765.461 77.0392 L765.461 77.9044 L765.894 79.2022 L766.759 80.0674 L767.624 80.5 L768.922 80.5 L769.787 80.0674 L770.652 79.2022 M773.681 74.4436 L773.681 80.5 M773.681 77.0392 L774.113 75.7414 L774.978 74.8762 L775.844 74.4436 L777.141 74.4436 M778.439 74.4436 L781.035 80.5 M783.63 74.4436 L781.035 80.5 M790.985 74.4436 L790.985 80.5 M790.985 75.7414 L790.119 74.8762 L789.254 74.4436 L787.956 74.4436 L787.091 74.8762 L786.226 75.7414 L785.793 77.0392 L785.793 77.9044 L786.226 79.2022 L787.091 80.0674 L787.956 80.5 L789.254 80.5 L790.119 80.0674 L790.985 79.2022 M794.272 71.4154 L794.272 80.5 M801.886 75.7414 L801.454 74.8762 L800.156 74.4436 L798.858 74.4436 L797.56 74.8762 L797.128 75.7414 L797.56 76.6066 L798.425 77.0392 L800.588 77.4718 L801.454 77.9044 L801.886 78.7696 L801.886 79.2022 L801.454 80.0674 L800.156 80.5 L798.858 80.5 L797.56 80.0674 L797.128 79.2022 M52.428 127.824 L56.344 127.824 L54.208 130.672 L55.276 130.672 L55.988 131.028 L56.344 131.384 L56.7 132.452 L56.7 133.164 L56.344 134.232 L55.632 134.944 L54.564 135.3 L53.496 135.3 L52.428 134.944 L52.072 134.588 L51.716 133.876 M59.192 129.604 L59.192 129.248 L59.548 128.536 L59.904 128.18 L60.616 127.824 L62.04 127.824 L62.752 128.18 L63.108 128.536 L63.464 129.248 L63.464 129.96 L63.108 130.672 L62.396 131.74 L58.836 135.3 L63.82 135.3 M66.668 134.588 L66.312 134.944 L66.668 135.3 L67.024 134.944 L66.668 134.588 M73.788 127.824 L70.228 127.824 L69.872 131.028 L70.228 130.672 L71.296 130.316 L72.364 130.316 L73.432 130.672 L74.144 131.384 L74.5 132.452 L74.5 133.164 L74.144 134.232 L73.432 134.944 L72.364 135.3 L71.296 135.3 L70.228 134.944 L69.872 134.588 L69.516 133.876 M52.428 181.824 L56.344 181.824 L54.208 184.672 L55.276 184.672 L55.988 185.028 L56.344 185.384 L56.7 186.452 L56.7 187.164 L56.344 188.232 L55.632 188.944 L54.564 189.3 L53.496 189.3 L52.428 188.944 L52.072 188.588 L51.716 187.876 M59.904 183.248 L60.616 182.892 L61.684 181.824 L61.684 189.3 M66.668 188.588 L66.312 188.944 L66.668 189.3 L67.024 188.944 L66.668 188.588 M73.788 181.824 L70.228 181.824 L69.872 185.028 L70.228 184.672 L71.296 184.316 L72.364 184.316 L73.432 184.672 L74.144 185.384 L74.5 186.452 L74.5 187.164 L74.144 188.232 L73.432 188.944 L72.364 189.3 L71.296 189.3 L70.228 188.944 L69.872 188.588 L69.516 187.876 M52.428 234.824 L56.344 234.824 L54.208 237.672 L55.276 237.672 L55.988 238.028 L56.344 238.384 L56.7 239.452 L56.7 240.164 L56.344 241.232 L55.632 241.944 L54.564 242.3 L53.496 242.3 L52.428 241.944 L52.072 241.588 L51.716 240.876 M60.972 234.824 L59.904 235.18 L59.192 236.248 L58.836 238.028 L58.836 239.096 L59.192 240.876 L59.904 241.944 L60.972 242.3 L61.684 242.3 L62.752 241.944 L63.464 240.876 L63.82 239.096 L63.82 238.028 L63.464 236.248 L62.752 235.18 L61.684 234.824 L60.972 234.824 M66.668 241.588 L66.312 241.944 L66.668 242.3 L67.024 241.944 L66.668 241.588 M73.788 234.824 L70.228 234.824 L69.872 238.028 L70.228 237.672 L71.296 237.316 L72.364 237.316 L73.432 237.672 L74.144 238.384 L74.5 239.452 L74.5 240.164 L74.144 241.232 L73.432 241.944 L72.364 242.3 L71.296 242.3 L70.228 241.944 L69.872 241.588 L69.516 240.876 M52.072 289.604 L52.072 289.248 L52.428 288.536 L52.784 288.18 L53.496 287.824 L54.92 287.824 L55.632 288.18 L55.988 288.536 L56.344 289.248 L56.344 289.96 L55.988 290.672 L55.276 291.74 L51.716 295.3 L56.7 295.3 M63.464 290.316 L63.108 291.384 L62.396 292.096 L61.328 292.452 L60.972 292.452 L59.904 292.096 L59.192 291.384 L58.836 290.316 L58.836 289.96 L59.192 288.892 L59.904 288.18 L60.972 287.824 L61.328 287.824 L62.396 288.18 L63.108 288.892 L63.464 290.316 L63.464 292.096 L63.108 293.876 L62.396 294.944 L61.328 295.3 L60.616 295.3 L59.548 294.944 L59.192 294.232 M66.668 294.588 L66.312 294.944 L66.668 295.3 L67.024 294.944 L66.668 294.588 M73.788 287.824 L70.228 287.824 L69.872 291.028 L70.228 290.672 L71.296 290.316 L72.364 290.316 L73.432 290.672 L74.144 291.384 L74.5 292.452 L74.5 293.164 L74.144 294.232 L73.432 294.944 L72.364 295.3 L71.296 295.3 L70.228 294.944 L69.872 294.588 L69.516 293.876 M52.072 343.604 L52.072 343.248 L52.428 342.536 L52.784 342.18 L53.496 341.824 L54.92 341.824 L55.632 342.18 L55.988 342.536 L56.344 343.248 L56.344 343.96 L55.988 344.672 L55.276 345.74 L51.716 349.3 L56.7 349.3 M60.616 341.824 L59.548 342.18 L59.192 342.892 L59.192 343.604 L59.548 344.316 L60.26 344.672 L61.684 345.028 L62.752 345.384 L63.464 346.096 L63.82 346.808 L63.82 347.876 L63.464 348.588 L63.108 348.944 L62.04 349.3 L60.616 349.3 L59.548 348.944 L59.192 348.588 L58.836 347.876 L58.836 346.808 L59.192 346.096 L59.904 345.384 L60.972 345.028 L62.396 344.672 L63.108 344.316 L63.464 343.604 L63.464 342.892 L63.108 342.18 L62.04 341.824 L60.616 341.824 M66.668 348.588 L66.312 348.944 L66.668 349.3 L67.024 348.944 L66.668 348.588 M73.788 341.824 L70.228 341.824 L69.872 345.028 L70.228 344.672 L71.296 344.316 L72.364 344.316 L73.432 344.672 L74.144 345.384 L74.5 346.452 L74.5 347.164 L74.144 348.232 L73.432 348.944 L72.364 349.3 L71.296 349.3 L70.228 348.944 L69.872 348.588 L69.516 347.876 M52.072 396.604 L52.072 396.248 L52.428 395.536 L52.784 395.18 L53.496 394.824 L54.92 394.824 L55.632 395.18 L55.988 395.536 L56.344 396.248 L56.344 396.96 L55.988 397.672 L55.276 398.74 L51.716 402.3 L56.7 402.3 M63.82 394.824 L60.26 402.3 M58.836 394.824 L63.82 394.824 M66.668 401.588 L66.312 401.944 L66.668 402.3 L67.024 401.944 L66.668 401.588 M73.788 394.824 L70.228 394.824 L69.872 398.028 L70.228 397.672 L71.296 397.316 L72.364 397.316 L73.432 397.672 L74.144 398.384 L74.5 399.452 L74.5 400.164 L74.144 401.232 L73.432 401.944 L72.364 402.3 L71.296 402.3 L70.228 401.944 L69.872 401.588 L69.516 400.876 M106.584 410.774 L105.516 411.13 L104.804 412.198 L104.448 413.978 L104.448 415.046 L104.804 416.826 L105.516 417.894 L106.584 418.25 L107.296 418.25 L108.364 417.894 L109.076 416.826 L109.432 415.046 L109.432 413.978 L109.076 412.198 L108.364 411.13 L107.296 410.774 L106.584 410.774 M113.704 410.774 L112.636 411.13 L111.924 412.198 L111.568 413.978 L111.568 415.046 L111.924 416.826 L112.636 417.894 L113.704 418.25 L114.416 418.25 L115.484 417.894 L116.196 416.826 L116.552 415.046 L116.552 413.978 L116.196 412.198 L115.484 411.13 L114.416 410.774 L113.704 410.774 M136.584 410.774 L135.516 411.13 L134.804 412.198 L134.448 413.978 L134.448 415.046 L134.804 416.826 L135.516 417.894 L136.584 418.25 L137.296 418.25 L138.364 417.894 L139.076 416.826 L139.432 415.046 L139.432 413.978 L139.076 412.198 L138.364 411.13 L137.296 410.774 L136.584 410.774 M146.196 411.842 L145.84 411.13 L144.772 410.774 L144.06 410.774 L142.992 411.13 L142.28 412.198 L141.924 413.978 L141.924 415.758 L142.28 417.182 L142.992 417.894 L144.06 418.25 L144.416 418.25 L145.484 417.894 L146.196 417.182 L146.552 416.114 L146.552 415.758 L146.196 414.69 L145.484 413.978 L144.416 413.622 L144.06 413.622 L142.992 413.978 L142.28 414.69 L141.924 415.758 M164.982 412.198 L165.694 411.842 L166.762 410.774 L166.762 418.25 M171.39 412.554 L171.39 412.198 L171.746 411.486 L172.102 411.13 L172.814 410.774 L174.238 410.774 L174.95 411.13 L175.306 411.486 L175.662 412.198 L175.662 412.91 L175.306 413.622 L174.594 414.69 L171.034 418.25 L176.018 418.25 M194.982 412.198 L195.694 411.842 L196.762 410.774 L196.762 418.25 M202.814 410.774 L201.746 411.13 L201.39 411.842 L201.39 412.554 L201.746 413.266 L202.458 413.622 L203.882 413.978 L204.95 414.334 L205.662 415.046 L206.018 415.758 L206.018 416.826 L205.662 417.538 L205.306 417.894 L204.238 418.25 L202.814 418.25 L201.746 417.894 L201.39 417.538 L201.034 416.826 L201.034 415.758 L201.39 415.046 L202.102 414.334 L203.17 413.978 L204.594 413.622 L205.306 413.266 L205.662 412.554 L205.662 411.842 L205.306 411.13 L204.238 410.774 L202.814 410.774 M226.584 410.774 L225.516 411.13 L224.804 412.198 L224.448 413.978 L224.448 415.046 L224.804 416.826 L225.516 417.894 L226.584 418.25 L227.296 418.25 L228.364 417.894 L229.076 416.826 L229.432 415.046 L229.432 413.978 L229.076 412.198 L228.364 411.13 L227.296 410.774 L226.584 410.774 M233.704 410.774 L232.636 411.13 L231.924 412.198 L231.568 413.978 L231.568 415.046 L231.924 416.826 L232.636 417.894 L233.704 418.25 L234.416 418.25 L235.484 417.894 L236.196 416.826 L236.552 415.046 L236.552 413.978 L236.196 412.198 L235.484 411.13 L234.416 410.774 L233.704 410.774 M256.584 410.774 L255.516 411.13 L254.804 412.198 L254.448 413.978 L254.448 415.046 L254.804 416.826 L255.516 417.894 L256.584 418.25 L257.296 418.25 L258.364 417.894 L259.076 416.826 L259.432 415.046 L259.432 413.978 L259.076 412.198 L258.364 411.13 L257.296 410.774 L256.584 410.774 M266.196 411.842 L265.84 411.13 L264.772 410.774 L264.06 410.774 L262.992 411.13 L262.28 412.198 L261.924 413.978 L261.924 415.758 L262.28 417.182 L262.992 417.894 L264.06 418.25 L264.416 418.25 L265.484 417.894 L266.196 417.182 L266.552 416.114 L266.552 415.758 L266.196 414.69 L265.484 413.978 L264.416 413.622 L264.06 413.622 L262.992 413.978 L262.28 414.69 L261.924 415.758 M284.982 412.198 L285.694 411.842 L286.762 410.774 L286.762 418.25 M291.39 412.554 L291.39 412.198 L291.746 411.486 L292.102 411.13 L292.814 410.774 L294.238 410.774 L294.95 411.13 L295.306 411.486 L295.662 412.198 L295.662 412.91 L295.306 413.622 L294.594 414.69 L291.034 418.25 L296.018 418.25 M313.982 412.198 L314.694 411.842 L315.762 410.774 L315.762 418.25 M321.814 410.774 L320.746 411.13 L320.39 411.842 L320.39 412.554 L320.746 413.266 L321.458 413.622 L322.882 413.978 L323.95 414.334 L324.662 415.046 L325.018 415.758 L325.018 416.826 L324.662 417.538 L324.306 417.894 L323.238 418.25 L321.814 418.25 L320.746 417.894 L320.39 417.538 L320.034 416.826 L320.034 415.758 L320.39 415.046 L321.102 414.334 L322.17 413.978 L323.594 413.622 L324.306 413.266 L324.662 412.554 L324.662 411.842 L324.306 411.13 L323.238 410.774 L321.814 410.774 M345.584 410.774 L344.516 411.13 L343.804 412.198 L343.448 413.978 L343.448 415.046 L343.804 416.826 L344.516 417.894 L345.584 418.25 L346.296 418.25 L347.364 417.894 L348.076 416.826 L348.432 415.046 L348.432 413.978 L348.076 412.198 L347.364 411.13 L346.296 410.774 L345.584 410.774 M352.704 410.774 L351.636 411.13 L350.924 412.198 L350.568 413.978 L350.568 415.046 L350.924 416.826 L351.636 417.894 L352.704 418.25 L353.416 418.25 L354.484 417.894 L355.196 416.826 L355.552 415.046 L355.552 413.978 L355.196 412.198 L354.484 411.13 L353.416 410.774 L352.704 410.774 M375.584 410.774 L374.516 411.13 L373.804 412.198 L373.448 413.978 L373.448 415.046 L373.804 416.826 L374.516 417.894 L375.584 418.25 L376.296 418.25 L377.364 417.894 L378.076 416.826 L378.432 415.046 L378.432 413.978 L378.076 412.198 L377.364 411.13 L376.296 410.774 L375.584 410.774 M385.196 411.842 L384.84 411.13 L383.772 410.774 L383.06 410.774 L381.992 411.13 L381.28 412.198 L380.924 413.978 L380.924 415.758 L381.28 417.182 L381.992 417.894 L383.06 418.25 L383.416 418.25 L384.484 417.894 L385.196 417.182 L385.552 416.114 L385.552 415.758 L385.196 414.69 L384.484 413.978 L383.416 413.622 L383.06 413.622 L381.992 413.978 L381.28 414.69 L380.924 415.758 M403.982 412.198 L404.694 411.842 L405.762 410.774 L405.762 418.25 M410.39 412.554 L410.39 412.198 L410.746 411.486 L411.102 411.13 L411.814 410.774 L413.238 410.774 L413.95 411.13 L414.306 411.486 L414.662 412.198 L414.662 412.91 L414.306 413.622 L413.594 414.69 L410.034 418.25 L415.018 418.25 M433.982 412.198 L434.694 411.842 L435.762 410.774 L435.762 418.25 M441.814 410.774 L440.746 411.13 L440.39 411.842 L440.39 412.554 L440.746 413.266 L441.458 413.622 L442.882 413.978 L443.95 414.334 L444.662 415.046 L445.018 415.758 L445.018 416.826 L444.662 417.538 L444.306 417.894 L443.238 418.25 L441.814 418.25 L440.746 417.894 L440.39 417.538 L440.034 416.826 L440.034 415.758 L440.39 415.046 L441.102 414.334 L442.17 413.978 L443.594 413.622 L444.306 413.266 L444.662 412.554 L444.662 411.842 L444.306 411.13 L443.238 410.774 L441.814 410.774 M465.584 410.774 L464.516 411.13 L463.804 412.198 L463.448 413.978 L463.448 415.046 L463.804 416.826 L464.516 417.894 L465.584 418.25 L466.296 418.25 L467.364 417.894 L468.076 416.826 L468.432 415.046 L468.432 413.978 L468.076 412.198 L467.364 411.13 L466.296 410.774 L465.584 410.774 M472.704 410.774 L471.636 411.13 L470.924 412.198 L470.568 413.978 L470.568 415.046 L470.924 416.826 L471.636 417.894 L472.704 418.25 L473.416 418.25 L474.484 417.894 L475.196 416.826 L475.552 415.046 L475.552 413.978 L475.196 412.198 L474.484 411.13 L473.416 410.774 L472.704 410.774 M495.584 410.774 L494.516 411.13 L493.804 412.198 L493.448 413.978 L493.448 415.046 L493.804 416.826 L494.516 417.894 L495.584 418.25 L496.296 418.25 L497.364 417.894 L498.076 416.826 L498.432 415.046 L498.432 413.978 L498.076 412.198 L497.364 411.13 L496.296 410.774 L495.584 410.774 M505.196 411.842 L504.84 411.13 L503.772 410.774 L503.06 410.774 L501.992 411.13 L501.28 412.198 L500.924 413.978 L500.924 415.758 L501.28 417.182 L501.992 417.894 L503.06 418.25 L503.416 418.25 L504.484 417.894 L505.196 417.182 L505.552 416.114 L505.552 415.758 L505.196 414.69 L504.484 413.978 L503.416 413.622 L503.06 413.622 L501.992 413.978 L501.28 414.69 L500.924 415.758 M523.982 412.198 L524.694 411.842 L525.762 410.774 L525.762 418.25 M530.39 412.554 L530.39 412.198 L530.746 411.486 L531.102 411.13 L531.814 410.774 L533.238 410.774 L533.95 411.13 L534.306 411.486 L534.662 412.198 L534.662 412.91 L534.306 413.622 L533.594 414.69 L530.034 418.25 L535.018 418.25 M553.982 412.198 L554.694 411.842 L555.762 410.774 L555.762 418.25 M561.814 410.774 L560.746 411.13 L560.39 411.842 L560.39 412.554 L560.746 413.266 L561.458 413.622 L562.882 413.978 L563.95 414.334 L564.662 415.046 L565.018 415.758 L565.018 416.826 L564.662 417.538 L564.306 417.894 L563.238 418.25 L561.814 418.25 L560.746 417.894 L560.39 417.538 L560.034 416.826 L560.034 415.758 L560.39 415.046 L561.102 414.334 L562.17 413.978 L563.594 413.622 L564.306 413.266 L564.662 412.554 L564.662 411.842 L564.306 411.13 L563.238 410.774 L561.814 410.774 M585.584 410.774 L584.516 411.13 L583.804 412.198 L583.448 413.978 L583.448 415.046 L583.804 416.826 L584.516 417.894 L585.584 418.25 L586.296 418.25 L587.364 417.894 L588.076 416.826 L588.432 415.046 L588.432 413.978 L588.076 412.198 L587.364 411.13 L586.296 410.774 L585.584 410.774 M592.704 410.774 L591.636 411.13 L590.924 412.198 L590.568 413.978 L590.568 415.046 L590.924 416.826 L591.636 417.894 L592.704 418.25 L593.416 418.25 L594.484 417.894 L595.196 416.826 L595.552 415.046 L595.552 413.978 L595.196 412.198 L594.484 411.13 L593.416 410.774 L592.704 410.774 M615.584 410.774 L614.516 411.13 L613.804 412.198 L613.448 413.978 L613.448 415.046 L613.804 416.826 L614.516 417.894 L615.584 418.25 L616.296 418.25 L617.364 417.894 L618.076 416.826 L618.432 415.046 L618.432 413.978 L618.076 412.198 L617.364 411.13 L616.296 410.774 L615.584 410.774 M625.196 411.842 L624.84 411.13 L623.772 410.774 L623.06 410.774 L621.992 411.13 L621.28 412.198 L620.924 413.978 L620.924 415.758 L621.28 417.182 L621.992 417.894 L623.06 418.25 L623.416 418.25 L624.484 417.894 L625.196 417.182 L625.552 416.114 L625.552 415.758 L625.196 414.69 L624.484 413.978 L623.416 413.622 L623.06 413.622 L621.992 413.978 L621.28 414.69 L620.924 415.758 M643.982 412.198 L644.694 411.842 L645.762 410.774 L645.762 418.25 M650.39 412.554 L650.39 412.198 L650.746 411.486 L651.102 411.13 L651.814 410.774 L653.238 410.774 L653.95 411.13 L654.306 411.486 L654.662 412.198 L654.662 412.91 L654.306 413.622 L653.594 414.69 L650.034 418.25 L655.018 418.25 M673.982 412.198 L674.694 411.842 L675.762 410.774 L675.762 418.25 M681.814 410.774 L680.746 411.13 L680.39 411.842 L680.39 412.554 L680.746 413.266 L681.458 413.622 L682.882 413.978 L683.95 414.334 L684.662 415.046 L685.018 415.758 L685.018 416.826 L684.662 417.538 L684.306 417.894 L683.238 418.25 L681.814 418.25 L680.746 417.894 L680.39 417.538 L680.034 416.826 L680.034 415.758 L680.39 415.046 L681.102 414.334 L682.17 413.978 L683.594 413.622 L684.306 413.266 L684.662 412.554 L684.662 411.842 L684.306 411.13 L683.238 410.774 L681.814 410.774 M705.584 410.774 L704.516 411.13 L703.804 412.198 L703.448 413.978 L703.448 415.046 L703.804 416.826 L704.516 417.894 L705.584 418.25 L706.296 418.25 L707.364 417.894 L708.076 416.826 L708.432 415.046 L708.432 413.978 L708.076 412.198 L707.364 411.13 L706.296 410.774 L705.584 410.774 M712.704 410.774 L711.636 411.13 L710.924 412.198 L710.568 413.978 L710.568 415.046 L710.924 416.826 L711.636 417.894 L712.704 418.25 L713.416 418.25 L714.484 417.894 L715.196 416.826 L715.552 415.046 L715.552 413.978 L715.196 412.198 L714.484 411.13 L713.416 410.774 L712.704 410.774 M734.584 410.774 L733.516 411.13 L732.804 412.198 L732.448 413.978 L732.448 415.046 L732.804 416.826 L733.516 417.894 L734.584 418.25 L735.296 418.25 L736.364 417.894 L737.076 416.826 L737.432 415.046 L737.432 413.978 L737.076 412.198 L736.364 411.13 L735.296 410.774 L734.584 410.774 M744.196 411.842 L743.84 411.13 L742.772 410.774 L742.06 410.774 L740.992 411.13 L740.28 412.198 L739.924 413.978 L739.924 415.758 L740.28 417.182 L740.992 417.894 L742.06 418.25 L742.416 418.25 L743.484 417.894 L744.196 417.182 L744.552 416.114 L744.552 415.758 L744.196 414.69 L743.484 413.978 L742.416 413.622 L742.06 413.622 L740.992 413.978 L740.28 414.69 L739.924 415.758 M762.982 412.198 L763.694 411.842 L764.762 410.774 L764.762 418.25 M769.39 412.554 L769.39 412.198 L769.746 411.486 L770.102 411.13 L770.814 410.774 L772.238 410.774 L772.95 411.13 L773.306 411.486 L773.662 412.198 L773.662 412.91 L773.306 413.622 L772.594 414.69 L769.034 418.25 L774.018 418.25 M792.982 412.198 L793.694 411.842 L794.762 410.774 L794.762 418.25 M800.814 410.774 L799.746 411.13 L799.39 411.842 L799.39 412.554 L799.746 413.266 L800.458 413.622 L801.882 413.978 L802.95 414.334 L803.662 415.046 L804.018 415.758 L804.018 416.826 L803.662 417.538 L803.306 417.894 L802.238 418.25 L800.814 418.25 L799.746 417.894 L799.39 417.538 L799.034 416.826 L799.034 415.758 L799.39 415.046 L800.102 414.334 L801.17 413.978 L802.594 413.622 L803.306 413.266 L803.662 412.554 L803.662 411.842 L803.306 411.13 L802.238 410.774 L800.814 410.774 M824.584 410.774 L823.516 411.13 L822.804 412.198 L822.448 413.978 L822.448 415.046 L822.804 416.826 L823.516 417.894 L824.584 418.25 L825.296 418.25 L826.364 417.894 L827.076 416.826 L827.432 415.046 L827.432 413.978 L827.076 412.198 L826.364 411.13 L825.296 410.774 L824.584 410.774 M831.704 410.774 L830.636 411.13 L829.924 412.198 L829.568 413.978 L829.568 415.046 L829.924 416.826 L830.636 417.894 L831.704 418.25 L832.416 418.25 L833.484 417.894 L834.196 416.826 L834.552 415.046 L834.552 413.978 L834.196 412.198 L833.484 411.13 L832.416 410.774 L831.704 410.774 M854.584 410.774 L853.516 411.13 L852.804 412.198 L852.448 413.978 L852.448 415.046 L852.804 416.826 L853.516 417.894 L854.584 418.25 L855.296 418.25 L856.364 417.894 L857.076 416.826 L857.432 415.046 L857.432 413.978 L857.076 412.198 L856.364 411.13 L855.296 410.774 L854.584 410.774 M864.196 411.842 L863.84 411.13 L862.772 410.774 L862.06 410.774 L860.992 411.13 L860.28 412.198 L859.924 413.978 L859.924 415.758 L860.28 417.182 L860.992 417.894 L862.06 418.25 L862.416 418.25 L863.484 417.894 L864.196 417.182 L864.552 416.114 L864.552 415.758 L864.196 414.69 L863.484 413.978 L862.416 413.622 L862.06 413.622 L860.992 413.978 L860.28 414.69 L859.924 415.758 M882.982 412.198 L883.694 411.842 L884.762 410.774 L884.762 418.25 M889.39 412.554 L889.39 412.198 L889.746 411.486 L890.102 411.13 L890.814 410.774 L892.238 410.774 L892.95 411.13 L893.306 411.486 L893.662 412.198 L893.662 412.91 L893.306 413.622 L892.594 414.69 L889.034 418.25 L894.018 418.25 M912.982 412.198 L913.694 411.842 L914.762 410.774 L914.762 418.25 M920.814 410.774 L919.746 411.13 L919.39 411.842 L919.39 412.554 L919.746 413.266 L920.458 413.622 L921.882 413.978 L922.95 414.334 L923.662 415.046 L924.018 415.758 L924.018 416.826 L923.662 417.538 L923.306 417.894 L922.238 418.25 L920.814 418.25 L919.746 417.894 L919.39 417.538 L919.034 416.826 L919.034 415.758 L919.39 415.046 L920.102 414.334 L921.17 413.978 L922.594 413.622 L923.306 413.266 L923.662 412.554 L923.662 411.842 L923.306 411.13 L922.238 410.774 L920.814 410.774 M141.5 426.75 L141.5 435.55 L140.964 437.2 L140.428 437.75 L139.356 438.3 L138.284 438.3 L137.212 437.75 L136.676 437.2 L136.14 435.55 L136.14 434.45 M148.468 426.75 L144.18 438.3 M148.468 426.75 L152.756 438.3 M145.788 434.45 L151.148 434.45 M155.436 426.75 L155.436 438.3 M155.436 426.75 L162.94 438.3 M162.94 426.75 L162.94 438.3 M175.804 429.5 L175.804 428.95 L176.34 427.85 L176.876 427.3 L177.948 426.75 L180.092 426.75 L181.164 427.3 L181.7 427.85 L182.236 428.95 L182.236 430.05 L181.7 431.15 L180.628 432.8 L175.268 438.3 L182.772 438.3 M186.524 429.5 L186.524 428.95 L187.06 427.85 L187.596 427.3 L188.668 426.75 L190.812 426.75 L191.884 427.3 L192.42 427.85 L192.956 428.95 L192.956 430.05 L192.42 431.15 L191.348 432.8 L185.988 438.3 L193.492 438.3 M261.5 426.75 L261.5 435.55 L260.964 437.2 L260.428 437.75 L259.356 438.3 L258.284 438.3 L257.212 437.75 L256.676 437.2 L256.14 435.55 L256.14 434.45 M268.468 426.75 L264.18 438.3 M268.468 426.75 L272.756 438.3 M265.788 434.45 L271.148 434.45 M275.436 426.75 L275.436 438.3 M275.436 426.75 L282.94 438.3 M282.94 426.75 L282.94 438.3 M295.804 429.5 L295.804 428.95 L296.34 427.85 L296.876 427.3 L297.948 426.75 L300.092 426.75 L301.164 427.3 L301.7 427.85 L302.236 428.95 L302.236 430.05 L301.7 431.15 L300.628 432.8 L295.268 438.3 L302.772 438.3 M307.06 426.75 L312.956 426.75 L309.74 431.15 L311.348 431.15 L312.42 431.7 L312.956 432.25 L313.492 433.9 L313.492 435 L312.956 436.65 L311.884 437.75 L310.276 438.3 L308.668 438.3 L307.06 437.75 L306.524 437.2 L305.988 436.1 M381.5 426.75 L381.5 435.55 L380.964 437.2 L380.428 437.75 L379.356 438.3 L378.284 438.3 L377.212 437.75 L376.676 437.2 L376.14 435.55 L376.14 434.45 M388.468 426.75 L384.18 438.3 M388.468 426.75 L392.756 438.3 M385.788 434.45 L391.148 434.45 M395.436 426.75 L395.436 438.3 M395.436 426.75 L402.94 438.3 M402.94 426.75 L402.94 438.3 M415.804 429.5 L415.804 428.95 L416.34 427.85 L416.876 427.3 L417.948 426.75 L420.092 426.75 L421.164 427.3 L421.7 427.85 L422.236 428.95 L422.236 430.05 L421.7 431.15 L420.628 432.8 L415.268 438.3 L422.772 438.3 M431.348 426.75 L425.988 434.45 L434.028 434.45 M431.348 426.75 L431.348 438.3 M501.5 426.75 L501.5 435.55 L500.964 437.2 L500.428 437.75 L499.356 438.3 L498.284 438.3 L497.212 437.75 L496.676 437.2 L496.14 435.55 L496.14 434.45 M508.468 426.75 L504.18 438.3 M508.468 426.75 L512.756 438.3 M505.788 434.45 L511.148 434.45 M515.436 426.75 L515.436 438.3 M515.436 426.75 L522.94 438.3 M522.94 426.75 L522.94 438.3 M535.804 429.5 L535.804 428.95 L536.34 427.85 L536.876 427.3 L537.948 426.75 L540.092 426.75 L541.164 427.3 L541.7 427.85 L542.236 428.95 L542.236 430.05 L541.7 431.15 L540.628 432.8 L535.268 438.3 L542.772 438.3 M552.42 426.75 L547.06 426.75 L546.524 431.7 L547.06 431.15 L548.668 430.6 L550.276 430.6 L551.884 431.15 L552.956 432.25 L553.492 433.9 L553.492 435 L552.956 436.65 L551.884 437.75 L550.276 438.3 L548.668 438.3 L547.06 437.75 L546.524 437.2 L545.988 436.1 M621.5 426.75 L621.5 435.55 L620.964 437.2 L620.428 437.75 L619.356 438.3 L618.284 438.3 L617.212 437.75 L616.676 437.2 L616.14 435.55 L616.14 434.45 M628.468 426.75 L624.18 438.3 M628.468 426.75 L632.756 438.3 M625.788 434.45 L631.148 434.45 M635.436 426.75 L635.436 438.3 M635.436 426.75 L642.94 438.3 M642.94 426.75 L642.94 438.3 M655.804 429.5 L655.804 428.95 L656.34 427.85 L656.876 427.3 L657.948 426.75 L660.092 426.75 L661.164 427.3 L661.7 427.85 L662.236 428.95 L662.236 430.05 L661.7 431.15 L660.628 432.8 L655.268 438.3 L662.772 438.3 M672.956 428.4 L672.42 427.3 L670.812 426.75 L669.74 426.75 L668.132 427.3 L667.06 428.95 L666.524 431.7 L666.524 434.45 L667.06 436.65 L668.132 437.75 L669.74 438.3 L670.276 438.3 L671.884 437.75 L672.956 436.65 L673.492 435 L673.492 434.45 L672.956 432.8 L671.884 431.7 L670.276 431.15 L669.74 431.15 L668.132 431.7 L667.06 432.8 L666.524 434.45 M740.5 426.75 L740.5 435.55 L739.964 437.2 L739.428 437.75 L738.356 438.3 L737.284 438.3 L736.212 437.75 L735.676 437.2 L735.14 435.55 L735.14 434.45 M747.468 426.75 L743.18 438.3 M747.468 426.75 L751.756 438.3 M744.788 434.45 L750.148 434.45 M754.436 426.75 L754.436 438.3 M754.436 426.75 L761.94 438.3 M761.94 426.75 L761.94 438.3 M774.804 429.5 L774.804 428.95 L775.34 427.85 L775.876 427.3 L776.948 426.75 L779.092 426.75 L780.164 427.3 L780.7 427.85 L781.236 428.95 L781.236 430.05 L780.7 431.15 L779.628 432.8 L774.268 438.3 L781.772 438.3 M792.492 426.75 L787.132 438.3 M784.988 426.75 L792.492 426.75 M855.5 426.75 L855.5 435.55 L854.964 437.2 L854.428 437.75 L853.356 438.3 L852.284 438.3 L851.212 437.75 L850.676 437.2 L850.14 435.55 L850.14 434.45 M862.468 426.75 L858.18 438.3 M862.468 426.75 L866.756 438.3 M859.788 434.45 L865.148 434.45 M869.436 426.75 L869.436 438.3 M869.436 426.75 L876.94 438.3 M876.94 426.75 L876.94 438.3 M889.804 429.5 L889.804 428.95 L890.34 427.85 L890.876 427.3 L891.948 426.75 L894.092 426.75 L895.164 427.3 L895.7 427.85 L896.236 428.95 L896.236 430.05 L895.7 431.15 L894.628 432.8 L889.268 438.3 L896.772 438.3 M902.668 426.75 L901.06 427.3 L900.524 428.4 L900.524 429.5 L901.06 430.6 L902.132 431.15 L904.276 431.7 L905.884 432.25 L906.956 433.35 L907.492 434.45 L907.492 436.1 L906.956 437.2 L906.42 437.75 L904.812 438.3 L902.668 438.3 L901.06 437.75 L900.524 437.2 L899.988 436.1 L899.988 434.45 L900.524 433.35 L901.596 432.25 L903.204 431.7 L905.348 431.15 L906.42 430.6 L906.956 429.5 L906.956 428.4 L906.42 427.3 L904.812 426.75 L902.668 426.75 M32.4154 265.4 L41.5 265.4 M36.7414 265.4 L35.8762 266.25 L35.4436 267.1 L35.4436 268.375 L35.8762 269.225 L36.7414 270.075 L38.0392 270.5 L38.9044 270.5 L40.2022 270.075 L41.0674 269.225 L41.5 268.375 L41.5 267.1 L41.0674 266.25 L40.2022 265.4 M38.0392 262.425 L38.0392 257.325 L37.174 257.325 L36.3088 257.75 L35.8762 258.175 L35.4436 259.025 L35.4436 260.3 L35.8762 261.15 L36.7414 262 L38.0392 262.425 L38.9044 262.425 L40.2022 262 L41.0674 261.15 L41.5 260.3 L41.5 259.025 L41.0674 258.175 L40.2022 257.325 M35.4436 249.675 L42.3652 249.675 L43.663 250.1 L44.0956 250.525 L44.5282 251.375 L44.5282 252.65 L44.0956 253.5 M36.7414 249.675 L35.8762 250.525 L35.4436 251.375 L35.4436 252.65 L35.8762 253.5 L36.7414 254.35 L38.0392 254.775 L38.9044 254.775 L40.2022 254.35 L41.0674 253.5 L41.5 252.65 L41.5 251.375 L41.0674 250.525 L40.2022 249.675 M34.5784 233.525 L33.7132 233.95 L32.848 234.8 L32.4154 235.65 L32.4154 237.35 L32.848 238.2 L33.7132 239.05 L34.5784 239.475 L35.8762 239.9 L38.0392 239.9 L39.337 239.475 L40.2022 239.05 L41.0674 238.2 L41.5 237.35 L41.5 235.65 L41.0674 234.8 L40.2022 233.95 L39.337 233.525 M283.462 451.387 L281.5 456.5 M283.462 451.387 L285.423 456.5 M282.236 454.796 L284.688 454.796 M286.649 451.387 L286.649 456.5 M286.649 451.387 L288.366 451.387 L289.101 451.63 L289.592 452.117 L289.837 452.604 L290.082 453.334 L290.082 454.552 L289.837 455.283 L289.592 455.769 L289.101 456.257 L288.366 456.5 L286.649 456.5 M295.231 452.604 L294.986 452.117 L294.496 451.63 L294.005 451.387 L293.024 451.387 L292.534 451.63 L292.044 452.117 L291.798 452.604 L291.553 453.334 L291.553 454.552 L291.798 455.283 L292.044 455.769 L292.534 456.257 L293.024 456.5 L294.005 456.5 L294.496 456.257 L294.986 455.769 L295.231 455.283 M296.948 452.604 L296.948 452.361 L297.193 451.873 L297.438 451.63 L297.928 451.387 L298.909 451.387 L299.4 451.63 L299.645 451.873 L299.89 452.361 L299.89 452.848 L299.645 453.334 L299.154 454.065 L296.702 456.5 L300.135 456.5 M304.058 451.387 L301.606 454.796 L305.284 454.796 M304.058 451.387 L304.058 456.5 M310.679 450.413 L306.265 458.204 M316.073 451.387 L316.073 456.5 M316.073 451.387 L317.79 451.387 L318.525 451.63 L319.016 452.117 L319.261 452.604 L319.506 453.334 L319.506 454.552 L319.261 455.283 L319.016 455.769 L318.525 456.257 L317.79 456.5 L316.073 456.5 M320.879 451.387 L321.124 451.63 L321.37 451.387 L321.124 451.143 L320.879 451.387 M321.124 453.091 L321.124 456.5 M322.497 453.091 L323.969 456.5 M325.44 453.091 L323.969 456.5 M326.666 454.552 L329.608 454.552 L329.608 454.065 L329.363 453.578 L329.118 453.334 L328.627 453.091 L327.892 453.091 L327.401 453.334 L326.911 453.822 L326.666 454.552 L326.666 455.039 L326.911 455.769 L327.401 456.257 L327.892 456.5 L328.627 456.5 L329.118 456.257 L329.608 455.769 M331.325 453.091 L331.325 456.5 M331.325 454.552 L331.57 453.822 L332.06 453.334 L332.551 453.091 L333.286 453.091 M336.964 453.822 L336.719 453.334 L335.983 453.091 L335.248 453.091 L334.512 453.334 L334.267 453.822 L334.512 454.308 L335.003 454.552 L336.229 454.796 L336.719 455.039 L336.964 455.526 L336.964 455.769 L336.719 456.257 L335.983 456.5 L335.248 456.5 L334.512 456.257 L334.267 455.769 M338.337 451.387 L338.583 451.63 L338.828 451.387 L338.583 451.143 L338.337 451.387 M338.583 453.091 L338.583 456.5 M341.427 453.091 L340.936 453.334 L340.446 453.822 L340.201 454.552 L340.201 455.039 L340.446 455.769 L340.936 456.257 L341.427 456.5 L342.162 456.5 L342.653 456.257 L343.143 455.769 L343.388 455.039 L343.388 454.552 L343.143 453.822 L342.653 453.334 L342.162 453.091 L341.427 453.091 M345.105 453.091 L345.105 456.5 M345.105 454.065 L345.84 453.334 L346.331 453.091 L347.066 453.091 L347.557 453.334 L347.802 454.065 L347.802 456.5 M353.687 451.387 L353.687 456.5 M353.687 451.387 L355.894 451.387 L356.629 451.63 L356.874 451.873 L357.12 452.361 L357.12 452.848 L356.874 453.334 L356.629 453.578 L355.894 453.822 L353.687 453.822 M355.403 453.822 L357.12 456.5 M358.591 454.552 L361.533 454.552 L361.533 454.065 L361.288 453.578 L361.043 453.334 L360.552 453.091 L359.817 453.091 L359.326 453.334 L358.836 453.822 L358.591 454.552 L358.591 455.039 L358.836 455.769 L359.326 456.257 L359.817 456.5 L360.552 456.5 L361.043 456.257 L361.533 455.769 M365.947 453.091 L365.947 456.987 L365.702 457.717 L365.456 457.961 L364.966 458.204 L364.23 458.204 L363.74 457.961 M365.947 453.822 L365.456 453.334 L364.966 453.091 L364.23 453.091 L363.74 453.334 L363.25 453.822 L363.004 454.552 L363.004 455.039 L363.25 455.769 L363.74 456.257 L364.23 456.5 L364.966 456.5 L365.456 456.257 L365.947 455.769 M367.81 451.387 L367.81 456.5 M369.919 451.387 L369.919 455.526 L370.164 456.257 L370.655 456.5 L371.145 456.5 M369.184 453.091 L370.9 453.091 M372.616 453.091 L372.616 456.5 M372.616 454.552 L372.862 453.822 L373.352 453.334 L373.842 453.091 L374.578 453.091 M376.049 456.013 L375.804 456.257 L376.049 456.5 L376.294 456.257 L376.049 456.013 M382.67 452.361 L383.16 452.117 L383.896 451.387 L383.896 456.5 M391.987 451.387 L391.987 456.5 M390.271 451.387 L393.704 451.387 M394.684 454.552 L397.627 454.552 L397.627 454.065 L397.382 453.578 L397.136 453.334 L396.646 453.091 L395.91 453.091 L395.42 453.334 L394.93 453.822 L394.684 454.552 L394.684 455.039 L394.93 455.769 L395.42 456.257 L395.91 456.5 L396.646 456.5 L397.136 456.257 L397.627 455.769 M399.343 453.091 L399.343 456.5 M399.343 454.065 L400.079 453.334 L400.569 453.091 L401.305 453.091 L401.795 453.334 L402.04 454.065 L402.04 456.5 M402.04 454.065 L402.776 453.334 L403.266 453.091 L404.002 453.091 L404.492 453.334 L404.738 454.065 L404.738 456.5 M406.699 453.091 L406.699 458.204 M406.699 453.822 L407.19 453.334 L407.68 453.091 L408.416 453.091 L408.906 453.334 L409.396 453.822 L409.642 454.552 L409.642 455.039 L409.396 455.769 L408.906 456.257 L408.416 456.5 L407.68 456.5 L407.19 456.257 L406.699 455.769 M416.507 451.387 L414.546 456.5 M416.507 451.387 L418.469 456.5 M415.281 454.796 L417.733 454.796 M419.204 453.091 L420.676 456.5 M422.147 453.091 L420.676 456.5 M426.315 453.091 L426.315 456.987 L426.07 457.717 L425.825 457.961 L425.334 458.204 L424.599 458.204 L424.108 457.961 M426.315 453.822 L425.825 453.334 L425.334 453.091 L424.599 453.091 L424.108 453.334 L423.618 453.822 L423.373 454.552 L423.373 455.039 L423.618 455.769 L424.108 456.257 L424.599 456.5 L425.334 456.5 L425.825 456.257 L426.315 455.769 M433.916 450.413 L433.426 450.899 L432.936 451.63 L432.445 452.604 L432.2 453.822 L432.2 454.796 L432.445 456.013 L432.936 456.987 L433.426 457.717 L433.916 458.204 M438.33 451.387 L438.33 456.5 M438.33 453.822 L437.84 453.334 L437.349 453.091 L436.614 453.091 L436.123 453.334 L435.633 453.822 L435.388 454.552 L435.388 455.039 L435.633 455.769 L436.123 456.257 L436.614 456.5 L437.349 456.5 L437.84 456.257 L438.33 455.769 M440.046 454.552 L442.989 454.552 L442.989 454.065 L442.744 453.578 L442.498 453.334 L442.008 453.091 L441.272 453.091 L440.782 453.334 L440.292 453.822 L440.046 454.552 L440.046 455.039 L440.292 455.769 L440.782 456.257 L441.272 456.5 L442.008 456.5 L442.498 456.257 L442.989 455.769 M447.402 453.091 L447.402 456.987 L447.157 457.717 L446.912 457.961 L446.422 458.204 L445.686 458.204 L445.196 457.961 M447.402 453.822 L446.912 453.334 L446.422 453.091 L445.686 453.091 L445.196 453.334 L444.705 453.822 L444.46 454.552 L444.46 455.039 L444.705 455.769 L445.196 456.257 L445.686 456.5 L446.422 456.5 L446.912 456.257 L447.402 455.769 M456.72 452.604 L456.475 452.117 L455.984 451.63 L455.494 451.387 L454.513 451.387 L454.023 451.63 L453.532 452.117 L453.287 452.604 L453.042 453.334 L453.042 454.552 L453.287 455.283 L453.532 455.769 L454.023 456.257 L454.513 456.5 L455.494 456.5 L455.984 456.257 L456.475 455.769 L456.72 455.283 M458.191 450.413 L458.682 450.899 L459.172 451.63 L459.662 452.604 L459.908 453.822 L459.908 454.796 L459.662 456.013 L459.172 456.987 L458.682 457.717 L458.191 458.204 M526.436 451.387 L524.5 456.5 M526.436 451.387 L528.372 456.5 M525.226 454.796 L527.646 454.796 M529.582 451.387 L529.582 456.5 M529.582 451.387 L531.276 451.387 L532.002 451.63 L532.486 452.117 L532.728 452.604 L532.97 453.334 L532.97 454.552 L532.728 455.283 L532.486 455.769 L532.002 456.257 L531.276 456.5 L529.582 456.5 M538.052 452.604 L537.81 452.117 L537.326 451.63 L536.842 451.387 L535.874 451.387 L535.39 451.63 L534.906 452.117 L534.664 452.604 L534.422 453.334 L534.422 454.552 L534.664 455.283 L534.906 455.769 L535.39 456.257 L535.874 456.5 L536.842 456.5 L537.326 456.257 L537.81 455.769 L538.052 455.283 M539.746 452.604 L539.746 452.361 L539.988 451.873 L540.23 451.63 L540.714 451.387 L541.682 451.387 L542.166 451.63 L542.408 451.873 L542.65 452.361 L542.65 452.848 L542.408 453.334 L541.924 454.065 L539.504 456.5 L542.892 456.5 M546.764 451.387 L544.344 454.796 L547.974 454.796 M546.764 451.387 L546.764 456.5 M553.298 450.413 L548.942 458.204 M558.622 451.387 L558.622 456.5 M558.622 451.387 L560.316 451.387 L561.042 451.63 L561.526 452.117 L561.768 452.604 L562.01 453.334 L562.01 454.552 L561.768 455.283 L561.526 455.769 L561.042 456.257 L560.316 456.5 L558.622 456.5 M563.365 451.387 L563.607 451.63 L563.849 451.387 L563.607 451.143 L563.365 451.387 M563.607 453.091 L563.607 456.5 M564.962 453.091 L566.414 456.5 M567.866 453.091 L566.414 456.5 M569.076 454.552 L571.98 454.552 L571.98 454.065 L571.738 453.578 L571.496 453.334 L571.012 453.091 L570.286 453.091 L569.802 453.334 L569.318 453.822 L569.076 454.552 L569.076 455.039 L569.318 455.769 L569.802 456.257 L570.286 456.5 L571.012 456.5 L571.496 456.257 L571.98 455.769 M573.674 453.091 L573.674 456.5 M573.674 454.552 L573.916 453.822 L574.4 453.334 L574.884 453.091 L575.61 453.091 M579.24 453.822 L578.998 453.334 L578.272 453.091 L577.546 453.091 L576.82 453.334 L576.578 453.822 L576.82 454.308 L577.304 454.552 L578.514 454.796 L578.998 455.039 L579.24 455.526 L579.24 455.769 L578.998 456.257 L578.272 456.5 L577.546 456.5 L576.82 456.257 L576.578 455.769 M580.596 451.387 L580.838 451.63 L581.08 451.387 L580.838 451.143 L580.596 451.387 M580.838 453.091 L580.838 456.5 M583.645 453.091 L583.161 453.334 L582.677 453.822 L582.435 454.552 L582.435 455.039 L582.677 455.769 L583.161 456.257 L583.645 456.5 L584.371 456.5 L584.855 456.257 L585.339 455.769 L585.581 455.039 L585.581 454.552 L585.339 453.822 L584.855 453.334 L584.371 453.091 L583.645 453.091 M587.275 453.091 L587.275 456.5 M587.275 454.065 L588.001 453.334 L588.485 453.091 L589.211 453.091 L589.695 453.334 L589.937 454.065 L589.937 456.5 M595.745 451.387 L595.745 456.5 M595.745 451.387 L597.923 451.387 L598.649 451.63 L598.891 451.873 L599.133 452.361 L599.133 452.848 L598.891 453.334 L598.649 453.578 L597.923 453.822 L595.745 453.822 M597.439 453.822 L599.133 456.5 M600.585 454.552 L603.489 454.552 L603.489 454.065 L603.247 453.578 L603.005 453.334 L602.521 453.091 L601.795 453.091 L601.311 453.334 L600.827 453.822 L600.585 454.552 L600.585 455.039 L600.827 455.769 L601.311 456.257 L601.795 456.5 L602.521 456.5 L603.005 456.257 L603.489 455.769 M607.845 453.091 L607.845 456.987 L607.603 457.717 L607.361 457.961 L606.877 458.204 L606.151 458.204 L605.667 457.961 M607.845 453.822 L607.361 453.334 L606.877 453.091 L606.151 453.091 L605.667 453.334 L605.183 453.822 L604.941 454.552 L604.941 455.039 L605.183 455.769 L605.667 456.257 L606.151 456.5 L606.877 456.5 L607.361 456.257 L607.845 455.769 M609.684 451.387 L609.684 456.5 M611.765 451.387 L611.765 455.526 L612.007 456.257 L612.491 456.5 L612.975 456.5 M611.039 453.091 L612.733 453.091 M614.427 453.091 L614.427 456.5 M614.427 454.552 L614.669 453.822 L615.153 453.334 L615.637 453.091 L616.363 453.091 M617.815 456.013 L617.573 456.257 L617.815 456.5 L618.057 456.257 L617.815 456.013 M624.349 452.361 L624.833 452.117 L625.559 451.387 L625.559 456.5 M633.545 451.387 L633.545 456.5 M631.851 451.387 L635.239 451.387 M636.207 454.552 L639.111 454.552 L639.111 454.065 L638.869 453.578 L638.627 453.334 L638.143 453.091 L637.417 453.091 L636.933 453.334 L636.449 453.822 L636.207 454.552 L636.207 455.039 L636.449 455.769 L636.933 456.257 L637.417 456.5 L638.143 456.5 L638.627 456.257 L639.111 455.769 M640.805 453.091 L640.805 456.5 M640.805 454.065 L641.531 453.334 L642.015 453.091 L642.741 453.091 L643.225 453.334 L643.467 454.065 L643.467 456.5 M643.467 454.065 L644.193 453.334 L644.677 453.091 L645.403 453.091 L645.887 453.334 L646.129 454.065 L646.129 456.5 M648.065 453.091 L648.065 458.204 M648.065 453.822 L648.549 453.334 L649.033 453.091 L649.759 453.091 L650.243 453.334 L650.727 453.822 L650.969 454.552 L650.969 455.039 L650.727 455.769 L650.243 456.257 L649.759 456.5 L649.033 456.5 L648.549 456.257 L648.065 455.769 M656.535 451.387 L656.535 456.5 M656.535 451.387 L658.471 456.5 M660.407 451.387 L658.471 456.5 M660.407 451.387 L660.407 456.5 M665.005 453.091 L665.005 456.5 M665.005 453.822 L664.521 453.334 L664.037 453.091 L663.311 453.091 L662.827 453.334 L662.343 453.822 L662.101 454.552 L662.101 455.039 L662.343 455.769 L662.827 456.257 L663.311 456.5 L664.037 456.5 L664.521 456.257 L665.005 455.769 M666.699 453.091 L669.361 456.5 M669.361 453.091 L666.699 456.5 M676.621 450.413 L676.137 450.899 L675.653 451.63 L675.169 452.604 L674.927 453.822 L674.927 454.796 L675.169 456.013 L675.653 456.987 L676.137 457.717 L676.621 458.204 M680.977 451.387 L680.977 456.5 M680.977 453.822 L680.493 453.334 L680.009 453.091 L679.283 453.091 L678.799 453.334 L678.315 453.822 L678.073 454.552 L678.073 455.039 L678.315 455.769 L678.799 456.257 L679.283 456.5 L680.009 456.5 L680.493 456.257 L680.977 455.769 M682.671 454.552 L685.575 454.552 L685.575 454.065 L685.333 453.578 L685.091 453.334 L684.607 453.091 L683.881 453.091 L683.397 453.334 L682.913 453.822 L682.671 454.552 L682.671 455.039 L682.913 455.769 L683.397 456.257 L683.881 456.5 L684.607 456.5 L685.091 456.257 L685.575 455.769 M689.931 453.091 L689.931 456.987 L689.689 457.717 L689.447 457.961 L688.963 458.204 L688.237 458.204 L687.753 457.961 M689.931 453.822 L689.447 453.334 L688.963 453.091 L688.237 453.091 L687.753 453.334 L687.269 453.822 L687.027 454.552 L687.027 455.039 L687.269 455.769 L687.753 456.257 L688.237 456.5 L688.963 456.5 L689.447 456.257 L689.931 455.769 M699.127 452.604 L698.885 452.117 L698.401 451.63 L697.917 451.387 L696.949 451.387 L696.465 451.63 L695.981 452.117 L695.739 452.604 L695.497 453.334 L695.497 454.552 L695.739 455.283 L695.981 455.769 L696.465 456.257 L696.949 456.5 L697.917 456.5 L698.401 456.257 L698.885 455.769 L699.127 455.283 M700.579 450.413 L701.063 450.899 L701.547 451.63 L702.031 452.604 L702.273 453.822 L702.273 454.796 L702.031 456.013 L701.547 456.987 L701.063 457.717 L700.579 458.204 M769.472 451.387 L767.5 456.5 M769.472 451.387 L771.444 456.5 M768.24 454.796 L770.705 454.796 M772.677 451.387 L772.677 456.5 M772.677 451.387 L774.402 451.387 L775.141 451.63 L775.635 452.117 L775.881 452.604 L776.128 453.334 L776.128 454.552 L775.881 455.283 L775.635 455.769 L775.141 456.257 L774.402 456.5 L772.677 456.5 M781.304 452.604 L781.058 452.117 L780.564 451.63 L780.072 451.387 L779.086 451.387 L778.592 451.63 L778.1 452.117 L777.853 452.604 L777.606 453.334 L777.606 454.552 L777.853 455.283 L778.1 455.769 L778.592 456.257 L779.086 456.5 L780.072 456.5 L780.564 456.257 L781.058 455.769 L781.304 455.283 M783.029 452.604 L783.029 452.361 L783.276 451.873 L783.523 451.63 L784.015 451.387 L785.001 451.387 L785.495 451.63 L785.741 451.873 L785.987 452.361 L785.987 452.848 L785.741 453.334 L785.248 454.065 L782.783 456.5 L786.234 456.5 M790.178 451.387 L787.713 454.796 L791.41 454.796 M790.178 451.387 L790.178 456.5 M796.833 450.413 L792.396 458.204 M802.256 451.387 L802.256 456.5 M802.256 451.387 L803.982 451.387 L804.721 451.63 L805.215 452.117 L805.461 452.604 L805.707 453.334 L805.707 454.552 L805.461 455.283 L805.215 455.769 L804.721 456.257 L803.982 456.5 L802.256 456.5 M807.088 451.387 L807.334 451.63 L807.581 451.387 L807.334 451.143 L807.088 451.387 M807.334 453.091 L807.334 456.5 M808.715 453.091 L810.194 456.5 M811.673 453.091 L810.194 456.5 M812.905 454.552 L815.863 454.552 L815.863 454.065 L815.617 453.578 L815.37 453.334 L814.877 453.091 L814.138 453.091 L813.645 453.334 L813.152 453.822 L812.905 454.552 L812.905 455.039 L813.152 455.769 L813.645 456.257 L814.138 456.5 L814.877 456.5 L815.37 456.257 L815.863 455.769 M817.589 453.091 L817.589 456.5 M817.589 454.552 L817.835 453.822 L818.328 453.334 L818.821 453.091 L819.561 453.091 M823.258 453.822 L823.012 453.334 L822.272 453.091 L821.533 453.091 L820.793 453.334 L820.547 453.822 L820.793 454.308 L821.286 454.552 L822.519 454.796 L823.012 455.039 L823.258 455.526 L823.258 455.769 L823.012 456.257 L822.272 456.5 L821.533 456.5 L820.793 456.257 L820.547 455.769 M824.639 451.387 L824.885 451.63 L825.132 451.387 L824.885 451.143 L824.639 451.387 M824.885 453.091 L824.885 456.5 M827.745 453.091 L827.252 453.334 L826.759 453.822 L826.512 454.552 L826.512 455.039 L826.759 455.769 L827.252 456.257 L827.745 456.5 L828.484 456.5 L828.977 456.257 L829.47 455.769 L829.717 455.039 L829.717 454.552 L829.47 453.822 L828.977 453.334 L828.484 453.091 L827.745 453.091 M831.442 453.091 L831.442 456.5 M831.442 454.065 L832.182 453.334 L832.675 453.091 L833.414 453.091 L833.907 453.334 L834.154 454.065 L834.154 456.5 M840.07 451.387 L840.07 456.5 M840.07 451.387 L842.288 451.387 L843.028 451.63 L843.274 451.873 L843.521 452.361 L843.521 452.848 L843.274 453.334 L843.028 453.578 L842.288 453.822 L840.07 453.822 M841.795 453.822 L843.521 456.5 M845 454.552 L847.958 454.552 L847.958 454.065 L847.711 453.578 L847.465 453.334 L846.972 453.091 L846.232 453.091 L845.739 453.334 L845.246 453.822 L845 454.552 L845 455.039 L845.246 455.769 L845.739 456.257 L846.232 456.5 L846.972 456.5 L847.465 456.257 L847.958 455.769 M852.395 453.091 L852.395 456.987 L852.148 457.717 L851.902 457.961 L851.409 458.204 L850.669 458.204 L850.176 457.961 M852.395 453.822 L851.902 453.334 L851.409 453.091 L850.669 453.091 L850.176 453.334 L849.683 453.822 L849.437 454.552 L849.437 455.039 L849.683 455.769 L850.176 456.257 L850.669 456.5 L851.409 456.5 L851.902 456.257 L852.395 455.769 M854.268 451.387 L854.268 456.5 M856.388 451.387 L856.388 455.526 L856.634 456.257 L857.127 456.5 L857.62 456.5 M855.648 453.091 L857.374 453.091 M859.099 453.091 L859.099 456.5 M859.099 454.552 L859.346 453.822 L859.839 453.334 L860.332 453.091 L861.071 453.091 M862.55 456.013 L862.304 456.257 L862.55 456.5 L862.797 456.257 L862.55 456.013 M869.206 452.361 L869.699 452.117 L870.438 451.387 L870.438 456.5 M878.573 451.387 L878.573 456.5 M876.847 451.387 L880.298 451.387 M881.284 454.552 L884.242 454.552 L884.242 454.065 L883.996 453.578 L883.749 453.334 L883.256 453.091 L882.517 453.091 L882.024 453.334 L881.531 453.822 L881.284 454.552 L881.284 455.039 L881.531 455.769 L882.024 456.257 L882.517 456.5 L883.256 456.5 L883.749 456.257 L884.242 455.769 M885.968 453.091 L885.968 456.5 M885.968 454.065 L886.707 453.334 L887.2 453.091 L887.94 453.091 L888.433 453.334 L888.679 454.065 L888.679 456.5 M888.679 454.065 L889.419 453.334 L889.912 453.091 L890.651 453.091 L891.144 453.334 L891.391 454.065 L891.391 456.5 M893.363 453.091 L893.363 458.204 M893.363 453.822 L893.856 453.334 L894.349 453.091 L895.088 453.091 L895.581 453.334 L896.074 453.822 L896.321 454.552 L896.321 455.039 L896.074 455.769 L895.581 456.257 L895.088 456.5 L894.349 456.5 L893.856 456.257 L893.363 455.769 M901.99 451.387 L901.99 456.5 M901.99 451.387 L903.962 456.5 M905.934 451.387 L903.962 456.5 M905.934 451.387 L905.934 456.5 M907.561 451.387 L907.808 451.63 L908.054 451.387 L907.808 451.143 L907.561 451.387 M907.808 453.091 L907.808 456.5 M909.681 453.091 L909.681 456.5 M909.681 454.065 L910.421 453.334 L910.914 453.091 L911.653 453.091 L912.146 453.334 L912.393 454.065 L912.393 456.5 M920.034 450.413 L919.541 450.899 L919.048 451.63 L918.555 452.604 L918.309 453.822 L918.309 454.796 L918.555 456.013 L919.048 456.987 L919.541 457.717 L920.034 458.204 M924.471 451.387 L924.471 456.5 M924.471 453.822 L923.978 453.334 L923.485 453.091 L922.746 453.091 L922.253 453.334 L921.76 453.822 L921.513 454.552 L921.513 455.039 L921.76 455.769 L922.253 456.257 L922.746 456.5 L923.485 456.5 L923.978 456.257 L924.471 455.769 M926.197 454.552 L929.155 454.552 L929.155 454.065 L928.908 453.578 L928.662 453.334 L928.169 453.091 L927.429 453.091 L926.936 453.334 L926.443 453.822 L926.197 454.552 L926.197 455.039 L926.443 455.769 L926.936 456.257 L927.429 456.5 L928.169 456.5 L928.662 456.257 L929.155 455.769 M933.592 453.091 L933.592 456.987 L933.345 457.717 L933.099 457.961 L932.606 458.204 L931.866 458.204 L931.373 457.961 M933.592 453.822 L933.099 453.334 L932.606 453.091 L931.866 453.091 L931.373 453.334 L930.88 453.822 L930.634 454.552 L930.634 455.039 L930.88 455.769 L931.373 456.257 L931.866 456.5 L932.606 456.5 L933.099 456.257 L933.592 455.769 M942.959 452.604 L942.712 452.117 L942.219 451.63 L941.726 451.387 L940.74 451.387 L940.247 451.63 L939.754 452.117 L939.508 452.604 L939.261 453.334 L939.261 454.552 L939.508 455.283 L939.754 455.769 L940.247 456.257 L940.74 456.5 L941.726 456.5 L942.219 456.257 L942.712 455.769 L942.959 455.283 M944.438 450.413 L944.931 450.899 L945.424 451.63 L945.917 452.604 L946.163 453.822 L946.163 454.796 L945.917 456.013 L945.424 456.987 L944.931 457.717 L944.438 458.204" stroke="#000" stroke-width="1" fill="none" stroke-linecap="square"/>
</svg></body></html>
